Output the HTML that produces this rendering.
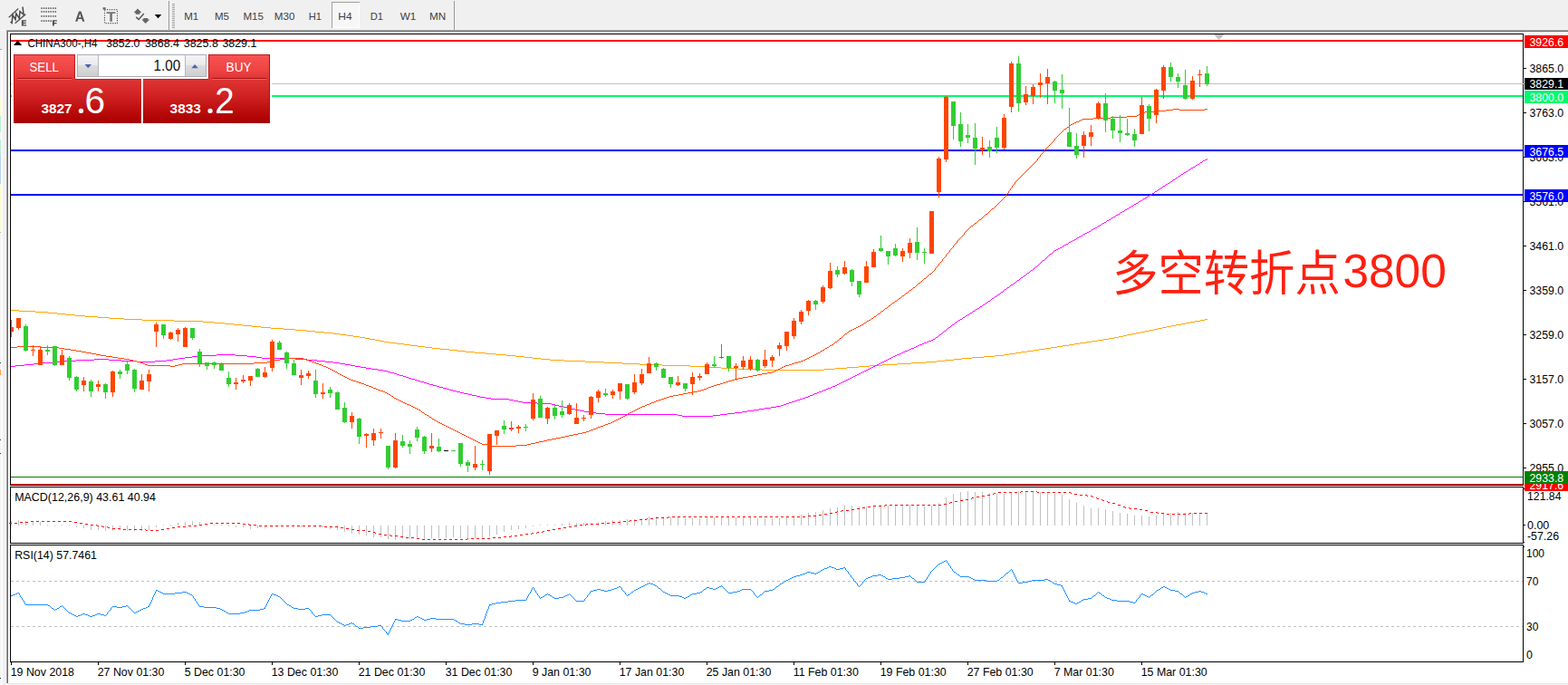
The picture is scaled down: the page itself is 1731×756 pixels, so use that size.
<!DOCTYPE html>
<html><head><meta charset="utf-8"><title>CHINA300 H4</title>
<style>
html,body{margin:0;padding:0;background:#fff;}
body{width:1731px;height:756px;position:relative;overflow:hidden;font-family:"Liberation Sans",sans-serif;}
.abs{position:absolute}
</style></head><body>
<svg width="1731" height="756" viewBox="0 0 1731 756" style="position:absolute;left:0;top:0" font-family="Liberation Sans, sans-serif">
<rect x="0" y="0" width="1731" height="33" fill="#f0f0f0" />
<rect x="0" y="33" width="1731" height="1" fill="#a8a8a8" />
<rect x="7" y="34" width="1731" height="1" fill="#696969" />
<rect x="0" y="35" width="1731" height="721" fill="#ffffff" />
<rect x="0" y="33" width="7" height="723" fill="#f0f0f0" />
<rect x="0" y="33" width="7" height="1" fill="#fafafa" />
<rect x="7" y="34" width="1" height="720" fill="#a0a0a0" />
<rect x="8" y="34" width="1" height="720" fill="#696969" />
<rect x="0" y="55" width="1" height="701" fill="#f4f4f4" />
<rect x="1" y="55" width="2" height="701" fill="#fbfbfc" />
<rect x="6" y="35" width="1" height="719" fill="#f5f5f5" />
<rect x="0" y="54" width="2" height="1" fill="#a0a0a0" />
<rect x="0" y="107" width="1" height="21" fill="#fbfbcc" />
<rect x="0" y="128" width="1" height="18" fill="#b8f0d0" />
<rect x="0" y="146" width="1" height="8" fill="#f8f8f8" />
<rect x="0" y="154" width="1" height="16" fill="#b8f0d0" />
<rect x="0" y="170" width="1" height="33" fill="#b4d4f8" />
<rect x="0" y="203" width="1" height="53" fill="#fbfbcc" />
<rect x="0" y="256" width="1" height="1" fill="#b0b0b0" />
<rect x="0" y="400" width="1" height="1" fill="#404040" />
<rect x="0" y="408" width="1" height="6" fill="#ffa040" />
<rect x="0" y="485" width="1" height="1" fill="#404040" />
<rect x="0" y="500" width="1" height="1" fill="#404040" />
<rect x="0" y="748" width="1" height="1" fill="#202020" />
<rect x="9" y="754" width="1722" height="1" fill="#e6e6e6" />
<rect x="9" y="755" width="1722" height="1" fill="#f4f4f4" />
<g shape-rendering="crispEdges">
<rect x="11" y="37" width="1671" height="1" fill="#000" />
<rect x="11" y="535" width="1671" height="1" fill="#000" />
<rect x="11" y="537" width="1671" height="1" fill="#000" />
<rect x="11" y="599" width="1671" height="1" fill="#000" />
<rect x="11" y="601" width="1671" height="1" fill="#000" />
<rect x="11" y="730" width="1671" height="1" fill="#000" />
<rect x="11" y="37" width="1" height="499" fill="#000" />
<rect x="11" y="537" width="1" height="63" fill="#000" />
<rect x="11" y="601" width="1" height="130" fill="#000" />
<rect x="1681" y="37" width="1" height="499" fill="#000" />
<rect x="1681" y="537" width="1" height="63" fill="#000" />
<rect x="1681" y="601" width="1" height="130" fill="#000" />
</g>
<defs><clipPath id="cm"><rect x="12" y="38" width="1669" height="497"/></clipPath></defs>
<g clip-path="url(#cm)" shape-rendering="crispEdges">
<rect x="12" y="44" width="1669" height="2" fill="#ff0000" />
<rect x="12" y="92" width="1670" height="1" fill="#c0c0c0" />
<rect x="12" y="105" width="1669" height="2" fill="#00fa6c" />
<rect x="12" y="165" width="1669" height="2" fill="#0000ff" />
<rect x="12" y="214" width="1669" height="2" fill="#0000ff" />
<rect x="12" y="526" width="1669" height="1" fill="#008000" />
<rect x="12" y="534" width="1669" height="1" fill="#ff0000" />
<path d="M12 342h9v1h-9zM21 343h18v1h-18zM39 344h14v1h-14zM53 345h10v1h-10zM63 346h10v1h-10zM73 347h10v1h-10zM83 348h11v1h-11zM94 349h14v1h-14zM108 350h13v1h-13zM121 351h16v1h-16zM137 352h20v1h-20zM1330 352h3v1h-3zM157 353h35v1h-35zM1325 353h5v1h-5zM192 354h32v1h-32zM1319 354h6v1h-6zM224 355h12v1h-12zM1314 355h5v1h-5zM236 356h12v1h-12zM1309 356h5v1h-5zM248 357h10v1h-10zM1304 357h5v1h-5zM258 358h10v1h-10zM1298 358h6v1h-6zM268 359h10v1h-10zM1293 359h5v1h-5zM278 360h10v1h-10zM1288 360h5v1h-5zM288 361h11v1h-11zM1283 361h5v1h-5zM299 362h14v1h-14zM1278 362h5v1h-5zM313 363h13v1h-13zM1274 363h4v1h-4zM326 364h12v1h-12zM1269 364h5v1h-5zM338 365h10v1h-10zM1264 365h5v1h-5zM348 366h10v1h-10zM1259 366h5v1h-5zM358 367h10v1h-10zM1254 367h5v1h-5zM368 368h8v1h-8zM1249 368h5v1h-5zM376 369h7v1h-7zM1244 369h5v1h-5zM383 370h7v1h-7zM1240 370h4v1h-4zM390 371h7v1h-7zM1235 371h5v1h-5zM397 372h6v1h-6zM1230 372h5v1h-5zM403 373h5v1h-5zM1224 373h6v1h-6zM408 374h6v1h-6zM1218 374h6v1h-6zM414 375h5v1h-5zM1212 375h6v1h-6zM419 376h5v1h-5zM1205 376h7v1h-7zM424 377h6v1h-6zM1199 377h6v1h-6zM430 378h8v1h-8zM1192 378h7v1h-7zM438 379h8v1h-8zM1186 379h6v1h-6zM446 380h7v1h-7zM1180 380h6v1h-6zM453 381h8v1h-8zM1173 381h7v1h-7zM461 382h8v1h-8zM1167 382h6v1h-6zM469 383h8v1h-8zM1160 383h7v1h-7zM477 384h9v1h-9zM1154 384h6v1h-6zM486 385h10v1h-10zM1147 385h7v1h-7zM496 386h9v1h-9zM1141 386h6v1h-6zM505 387h9v1h-9zM1134 387h7v1h-7zM514 388h10v1h-10zM1127 388h7v1h-7zM524 389h12v1h-12zM1121 389h6v1h-6zM536 390h11v1h-11zM1114 390h7v1h-7zM547 391h12v1h-12zM1108 391h6v1h-6zM559 392h10v1h-10zM1098 392h10v1h-10zM569 393h10v1h-10zM1086 393h12v1h-12zM579 394h9v1h-9zM1073 394h13v1h-13zM588 395h9v1h-9zM1062 395h11v1h-11zM597 396h10v1h-10zM1053 396h9v1h-9zM607 397h16v1h-16zM1043 397h10v1h-10zM623 398h23v1h-23zM1034 398h9v1h-9zM646 399h21v1h-21zM1022 399h12v1h-12zM667 400h20v1h-20zM1006 400h16v1h-16zM687 401h19v1h-19zM990 401h16v1h-16zM706 402h25v1h-25zM974 402h16v1h-16zM731 403h31v1h-31zM960 403h14v1h-14zM762 404h21v1h-21zM948 404h12v1h-12zM783 405h13v1h-13zM935 405h13v1h-13zM796 406h19v1h-19zM922 406h13v1h-13zM815 407h26v1h-26zM910 407h12v1h-12zM841 408h69v1h-69z" fill="#ffa500"/>
<path d="M1332 175h1v1h-1zM1330 176h2v1h-2zM1328 177h2v1h-2zM1327 178h1v1h-1zM1325 179h2v1h-2zM1324 180h1v1h-1zM1322 181h2v1h-2zM1320 182h2v1h-2zM1319 183h1v1h-1zM1317 184h2v1h-2zM1315 185h2v1h-2zM1314 186h1v1h-1zM1312 187h2v1h-2zM1311 188h1v1h-1zM1309 189h2v1h-2zM1307 190h2v1h-2zM1306 191h1v1h-1zM1304 192h2v1h-2zM1303 193h1v1h-1zM1301 194h2v1h-2zM1300 195h1v1h-1zM1298 196h2v1h-2zM1297 197h1v1h-1zM1295 198h2v1h-2zM1294 199h1v1h-1zM1292 200h2v1h-2zM1291 201h1v1h-1zM1289 202h2v1h-2zM1287 203h2v1h-2zM1286 204h1v1h-1zM1284 205h2v1h-2zM1283 206h1v1h-1zM1281 207h2v1h-2zM1280 208h1v1h-1zM1278 209h2v1h-2zM1277 210h1v1h-1zM1275 211h2v1h-2zM1274 212h1v1h-1zM1272 213h2v1h-2zM1271 214h1v1h-1zM1269 215h2v1h-2zM1267 216h2v1h-2zM1266 217h1v1h-1zM1264 218h2v1h-2zM1262 219h2v1h-2zM1261 220h1v1h-1zM1259 221h2v1h-2zM1257 222h2v1h-2zM1256 223h1v1h-1zM1254 224h2v1h-2zM1252 225h2v1h-2zM1251 226h1v1h-1zM1249 227h2v1h-2zM1247 228h2v1h-2zM1246 229h1v1h-1zM1244 230h2v1h-2zM1242 231h2v1h-2zM1241 232h1v1h-1zM1239 233h2v1h-2zM1237 234h2v1h-2zM1236 235h1v1h-1zM1234 236h2v1h-2zM1232 237h2v1h-2zM1231 238h1v1h-1zM1229 239h2v1h-2zM1227 240h2v1h-2zM1226 241h1v1h-1zM1224 242h2v1h-2zM1222 243h2v1h-2zM1221 244h1v1h-1zM1219 245h2v1h-2zM1217 246h2v1h-2zM1216 247h1v1h-1zM1214 248h2v1h-2zM1212 249h2v1h-2zM1211 250h1v1h-1zM1209 251h2v1h-2zM1207 252h2v1h-2zM1205 253h2v1h-2zM1204 254h1v1h-1zM1202 255h2v1h-2zM1200 256h2v1h-2zM1198 257h2v1h-2zM1196 258h2v1h-2zM1195 259h1v1h-1zM1193 260h2v1h-2zM1191 261h2v1h-2zM1189 262h2v1h-2zM1188 263h1v1h-1zM1186 264h2v1h-2zM1184 265h2v1h-2zM1182 266h2v1h-2zM1180 267h2v1h-2zM1179 268h1v1h-1zM1177 269h2v1h-2zM1175 270h2v1h-2zM1173 271h2v1h-2zM1172 272h1v1h-1zM1170 273h2v1h-2zM1168 274h2v1h-2zM1166 275h2v1h-2zM1164 276h2v1h-2zM1163 277h1v1h-1zM1162 278h1v1h-1zM1161 279h1v1h-1zM1159 280h2v1h-2zM1158 281h1v1h-1zM1157 282h1v1h-1zM1156 283h1v1h-1zM1155 284h1v1h-1zM1154 285h1v1h-1zM1153 286h1v1h-1zM1151 287h2v1h-2zM1150 288h1v1h-1zM1149 289h1v1h-1zM1148 290h1v1h-1zM1147 291h1v1h-1zM1146 292h1v1h-1zM1145 293h1v1h-1zM1143 294h2v1h-2zM1142 295h1v1h-1zM1141 296h1v1h-1zM1140 297h1v1h-1zM1138 298h2v1h-2zM1137 299h1v1h-1zM1136 300h1v1h-1zM1134 301h2v1h-2zM1133 302h1v1h-1zM1132 303h1v1h-1zM1130 304h2v1h-2zM1129 305h1v1h-1zM1127 306h2v1h-2zM1126 307h1v1h-1zM1125 308h1v1h-1zM1123 309h2v1h-2zM1122 310h1v1h-1zM1121 311h1v1h-1zM1119 312h2v1h-2zM1118 313h1v1h-1zM1116 314h2v1h-2zM1115 315h1v1h-1zM1114 316h1v1h-1zM1112 317h2v1h-2zM1111 318h1v1h-1zM1109 319h2v1h-2zM1108 320h1v1h-1zM1107 321h1v1h-1zM1105 322h2v1h-2zM1104 323h1v1h-1zM1103 324h1v1h-1zM1101 325h2v1h-2zM1100 326h1v1h-1zM1098 327h2v1h-2zM1097 328h1v1h-1zM1095 329h2v1h-2zM1094 330h1v1h-1zM1093 331h1v1h-1zM1091 332h2v1h-2zM1090 333h1v1h-1zM1088 334h2v1h-2zM1087 335h1v1h-1zM1085 336h2v1h-2zM1084 337h1v1h-1zM1082 338h2v1h-2zM1081 339h1v1h-1zM1079 340h2v1h-2zM1077 341h2v1h-2zM1076 342h1v1h-1zM1074 343h2v1h-2zM1073 344h1v1h-1zM1071 345h2v1h-2zM1070 346h1v1h-1zM1068 347h2v1h-2zM1066 348h2v1h-2zM1065 349h1v1h-1zM1063 350h2v1h-2zM1062 351h1v1h-1zM1060 352h2v1h-2zM1058 353h2v1h-2zM1057 354h1v1h-1zM1055 355h2v1h-2zM1054 356h1v1h-1zM1053 357h1v1h-1zM1051 358h2v1h-2zM1050 359h1v1h-1zM1049 360h1v1h-1zM1047 361h2v1h-2zM1046 362h1v1h-1zM1045 363h1v1h-1zM1044 364h1v1h-1zM1042 365h2v1h-2zM1041 366h1v1h-1zM1040 367h1v1h-1zM1039 368h1v1h-1zM1037 369h2v1h-2zM1036 370h1v1h-1zM1035 371h1v1h-1zM1033 372h2v1h-2zM1032 373h1v1h-1zM1030 374h2v1h-2zM1028 375h2v1h-2zM1025 376h3v1h-3zM1023 377h2v1h-2zM1020 378h3v1h-3zM1018 379h2v1h-2zM1015 380h3v1h-3zM1013 381h2v1h-2zM1011 382h2v1h-2zM1009 383h2v1h-2zM1006 384h3v1h-3zM1004 385h2v1h-2zM1002 386h2v1h-2zM999 387h3v1h-3zM997 388h2v1h-2zM995 389h2v1h-2zM993 390h2v1h-2zM239 391h21v1h-21zM990 391h3v1h-3zM220 392h19v1h-19zM260 392h13v1h-13zM988 392h2v1h-2zM212 393h8v1h-8zM273 393h10v1h-10zM986 393h2v1h-2zM204 394h8v1h-8zM283 394h6v1h-6zM984 394h2v1h-2zM197 395h7v1h-7zM289 395h37v1h-37zM982 395h2v1h-2zM104 396h16v1h-16zM191 396h6v1h-6zM326 396h13v1h-13zM980 396h2v1h-2zM84 397h20v1h-20zM120 397h14v1h-14zM184 397h7v1h-7zM339 397h11v1h-11zM978 397h2v1h-2zM69 398h15v1h-15zM134 398h17v1h-17zM171 398h13v1h-13zM350 398h9v1h-9zM976 398h2v1h-2zM58 399h11v1h-11zM151 399h20v1h-20zM359 399h9v1h-9zM974 399h2v1h-2zM47 400h11v1h-11zM368 400h7v1h-7zM972 400h2v1h-2zM37 401h10v1h-10zM375 401h6v1h-6zM970 401h2v1h-2zM27 402h10v1h-10zM381 402h6v1h-6zM968 402h2v1h-2zM17 403h10v1h-10zM387 403h5v1h-5zM966 403h2v1h-2zM12 404h5v1h-5zM392 404h6v1h-6zM964 404h2v1h-2zM398 405h6v1h-6zM962 405h2v1h-2zM404 406h6v1h-6zM960 406h2v1h-2zM410 407h7v1h-7zM958 407h2v1h-2zM417 408h6v1h-6zM956 408h2v1h-2zM423 409h5v1h-5zM954 409h2v1h-2zM428 410h3v1h-3zM952 410h2v1h-2zM431 411h4v1h-4zM950 411h2v1h-2zM435 412h3v1h-3zM948 412h2v1h-2zM438 413h3v1h-3zM946 413h2v1h-2zM441 414h4v1h-4zM944 414h2v1h-2zM445 415h3v1h-3zM942 415h2v1h-2zM448 416h3v1h-3zM940 416h2v1h-2zM451 417h3v1h-3zM938 417h2v1h-2zM454 418h4v1h-4zM936 418h2v1h-2zM458 419h3v1h-3zM934 419h2v1h-2zM461 420h3v1h-3zM932 420h2v1h-2zM464 421h4v1h-4zM930 421h2v1h-2zM468 422h3v1h-3zM928 422h2v1h-2zM471 423h3v1h-3zM926 423h2v1h-2zM474 424h4v1h-4zM924 424h2v1h-2zM478 425h4v1h-4zM922 425h2v1h-2zM482 426h3v1h-3zM919 426h3v1h-3zM485 427h4v1h-4zM917 427h2v1h-2zM489 428h4v1h-4zM914 428h3v1h-3zM493 429h3v1h-3zM912 429h2v1h-2zM496 430h4v1h-4zM909 430h3v1h-3zM500 431h4v1h-4zM907 431h2v1h-2zM504 432h4v1h-4zM904 432h3v1h-3zM508 433h4v1h-4zM902 433h2v1h-2zM512 434h5v1h-5zM899 434h3v1h-3zM517 435h4v1h-4zM897 435h2v1h-2zM521 436h5v1h-5zM894 436h3v1h-3zM526 437h4v1h-4zM892 437h2v1h-2zM530 438h6v1h-6zM889 438h3v1h-3zM536 439h6v1h-6zM886 439h3v1h-3zM542 440h20v1h-20zM883 440h3v1h-3zM562 441h5v1h-5zM880 441h3v1h-3zM567 442h5v1h-5zM877 442h3v1h-3zM572 443h5v1h-5zM874 443h3v1h-3zM577 444h16v1h-16zM871 444h3v1h-3zM593 445h16v1h-16zM868 445h3v1h-3zM609 446h4v1h-4zM865 446h3v1h-3zM613 447h4v1h-4zM862 447h3v1h-3zM617 448h5v1h-5zM857 448h5v1h-5zM622 449h4v1h-4zM851 449h6v1h-6zM626 450h4v1h-4zM844 450h7v1h-7zM630 451h5v1h-5zM838 451h6v1h-6zM635 452h5v1h-5zM832 452h6v1h-6zM640 453h5v1h-5zM825 453h7v1h-7zM645 454h5v1h-5zM819 454h6v1h-6zM650 455h8v1h-8zM811 455h8v1h-8zM658 456h10v1h-10zM803 456h8v1h-8zM668 457h80v1h-80zM795 457h8v1h-8zM748 458h5v1h-5zM787 458h8v1h-8zM753 459h34v1h-34z" fill="#ff00ff"/>
<path d="M1295 120h7v1h-7zM1330 120h3v1h-3zM1287 121h8v1h-8zM1302 121h28v1h-28zM1274 122h13v1h-13zM1264 123h10v1h-10zM1262 124h2v1h-2zM1260 125h2v1h-2zM1257 126h3v1h-3zM1255 127h2v1h-2zM1244 128h11v1h-11zM1226 129h18v1h-18zM1207 130h19v1h-19zM1195 131h12v1h-12zM1193 132h2v1h-2zM1191 133h2v1h-2zM1188 134h3v1h-3zM1186 135h2v1h-2zM1184 136h2v1h-2zM1182 137h2v1h-2zM1181 138h1v1h-1zM1180 139h1v1h-1zM1178 140h2v1h-2zM1177 141h1v1h-1zM1175 142h2v1h-2zM1174 143h1v1h-1zM1173 144h1v1h-1zM1172 145h1v1h-1zM1171 146h1v1h-1zM1170 147h1v1h-1zM1169 148h1v1h-1zM1168 149h1v1h-1zM1167 150h1v1h-1zM1166 151h1v1h-1zM1165 152h1v1h-1zM1164 153h1v2h-1zM1163 155h1v1h-1zM1162 156h1v1h-1zM1161 157h1v1h-1zM1160 158h1v1h-1zM1159 159h1v1h-1zM1158 160h1v1h-1zM1157 161h1v1h-1zM1156 162h1v1h-1zM1155 163h1v1h-1zM1154 164h1v1h-1zM1153 165h1v1h-1zM1152 166h1v2h-1zM1151 168h1v1h-1zM1150 169h1v1h-1zM1149 170h1v1h-1zM1148 171h1v2h-1zM1147 173h1v1h-1zM1146 174h1v1h-1zM1145 175h1v2h-1zM1144 177h1v1h-1zM1143 178h1v1h-1zM1142 179h1v1h-1zM1141 180h1v1h-1zM1140 181h1v1h-1zM1139 182h1v1h-1zM1138 183h1v1h-1zM1137 184h1v1h-1zM1136 185h1v1h-1zM1135 186h1v1h-1zM1134 187h1v1h-1zM1133 188h1v1h-1zM1132 189h1v1h-1zM1131 190h1v1h-1zM1130 191h1v1h-1zM1129 192h1v1h-1zM1128 193h1v1h-1zM1127 194h1v1h-1zM1126 195h1v1h-1zM1125 196h1v1h-1zM1124 197h1v1h-1zM1123 198h1v1h-1zM1122 199h1v1h-1zM1121 200h1v1h-1zM1120 201h1v2h-1zM1119 203h1v1h-1zM1118 204h1v1h-1zM1117 205h1v2h-1zM1116 207h1v1h-1zM1115 208h1v2h-1zM1114 210h1v1h-1zM1113 211h1v2h-1zM1112 213h1v1h-1zM1111 214h1v1h-1zM1110 215h1v2h-1zM1109 217h1v1h-1zM1108 218h1v1h-1zM1107 219h1v1h-1zM1106 220h1v1h-1zM1105 221h1v1h-1zM1104 222h1v1h-1zM1103 223h1v1h-1zM1102 224h1v1h-1zM1101 225h1v1h-1zM1100 226h1v1h-1zM1099 227h1v1h-1zM1098 228h1v1h-1zM1097 229h1v1h-1zM1095 230h2v1h-2zM1094 231h1v1h-1zM1093 232h1v1h-1zM1092 233h1v1h-1zM1091 234h1v1h-1zM1090 235h1v1h-1zM1088 236h2v1h-2zM1087 237h1v1h-1zM1086 238h1v1h-1zM1085 239h1v1h-1zM1084 240h1v1h-1zM1083 241h1v1h-1zM1081 242h2v1h-2zM1080 243h1v1h-1zM1079 244h1v1h-1zM1078 245h1v1h-1zM1076 246h2v1h-2zM1075 247h1v1h-1zM1074 248h1v1h-1zM1072 249h2v1h-2zM1071 250h1v1h-1zM1070 251h1v1h-1zM1069 252h1v1h-1zM1068 253h1v1h-1zM1067 254h1v1h-1zM1066 255h1v1h-1zM1065 256h1v1h-1zM1064 257h1v2h-1zM1063 259h1v1h-1zM1062 260h1v1h-1zM1061 261h1v1h-1zM1060 262h1v1h-1zM1059 263h1v1h-1zM1058 264h1v1h-1zM1057 265h1v1h-1zM1056 266h1v2h-1zM1055 268h1v1h-1zM1054 269h1v1h-1zM1053 270h1v1h-1zM1052 271h1v2h-1zM1051 273h1v1h-1zM1050 274h1v1h-1zM1049 275h1v1h-1zM1048 276h1v2h-1zM1047 278h1v1h-1zM1046 279h1v1h-1zM1045 280h1v1h-1zM1044 281h1v2h-1zM1043 283h1v1h-1zM1042 284h1v1h-1zM1041 285h1v1h-1zM1040 286h1v2h-1zM1039 288h1v1h-1zM1038 289h1v1h-1zM1037 290h1v1h-1zM1036 291h1v2h-1zM1035 293h1v1h-1zM1034 294h1v1h-1zM1033 295h1v1h-1zM1032 296h1v2h-1zM1031 298h1v1h-1zM1030 299h1v1h-1zM1029 300h1v1h-1zM1028 301h1v1h-1zM1026 302h2v1h-2zM1025 303h1v1h-1zM1024 304h1v1h-1zM1023 305h1v1h-1zM1022 306h1v1h-1zM1020 307h2v1h-2zM1019 308h1v1h-1zM1018 309h1v1h-1zM1017 310h1v1h-1zM1016 311h1v1h-1zM1014 312h2v1h-2zM1013 313h1v1h-1zM1012 314h1v1h-1zM1011 315h1v1h-1zM1010 316h1v1h-1zM1008 317h2v1h-2zM1007 318h1v1h-1zM1006 319h1v1h-1zM1004 320h2v1h-2zM1003 321h1v1h-1zM1002 322h1v1h-1zM1000 323h2v1h-2zM999 324h1v1h-1zM998 325h1v1h-1zM996 326h2v1h-2zM995 327h1v1h-1zM994 328h1v1h-1zM992 329h2v1h-2zM991 330h1v1h-1zM990 331h1v1h-1zM988 332h2v1h-2zM987 333h1v1h-1zM985 334h2v1h-2zM984 335h1v1h-1zM983 336h1v1h-1zM981 337h2v1h-2zM980 338h1v1h-1zM979 339h1v1h-1zM977 340h2v1h-2zM976 341h1v1h-1zM975 342h1v1h-1zM973 343h2v1h-2zM972 344h1v1h-1zM971 345h1v1h-1zM969 346h2v1h-2zM968 347h1v1h-1zM967 348h1v1h-1zM965 349h2v1h-2zM964 350h1v1h-1zM962 351h2v1h-2zM961 352h1v1h-1zM959 353h2v1h-2zM957 354h2v1h-2zM956 355h1v1h-1zM954 356h2v1h-2zM953 357h1v1h-1zM951 358h2v1h-2zM949 359h2v1h-2zM947 360h2v1h-2zM945 361h2v1h-2zM943 362h2v1h-2zM941 363h2v1h-2zM939 364h2v1h-2zM937 365h2v1h-2zM936 366h1v1h-1zM935 367h1v1h-1zM933 368h2v1h-2zM932 369h1v1h-1zM931 370h1v1h-1zM930 371h1v1h-1zM929 372h1v1h-1zM927 373h2v1h-2zM926 374h1v1h-1zM925 375h1v1h-1zM924 376h1v1h-1zM922 377h2v1h-2zM921 378h1v1h-1zM920 379h1v1h-1zM918 380h2v1h-2zM916 381h2v1h-2zM19 382h25v1h-25zM915 382h1v1h-1zM12 383h7v1h-7zM44 383h21v1h-21zM913 383h2v1h-2zM65 384h6v1h-6zM911 384h2v1h-2zM71 385h7v1h-7zM910 385h1v1h-1zM78 386h6v1h-6zM908 386h2v1h-2zM84 387h6v1h-6zM906 387h2v1h-2zM90 388h5v1h-5zM905 388h1v1h-1zM95 389h6v1h-6zM903 389h2v1h-2zM101 390h5v1h-5zM901 390h2v1h-2zM106 391h5v1h-5zM899 391h2v1h-2zM111 392h6v1h-6zM897 392h2v1h-2zM117 393h7v1h-7zM895 393h2v1h-2zM124 394h6v1h-6zM893 394h2v1h-2zM130 395h7v1h-7zM316 395h19v1h-19zM891 395h2v1h-2zM137 396h6v1h-6zM309 396h7v1h-7zM335 396h3v1h-3zM889 396h2v1h-2zM143 397h4v1h-4zM303 397h6v1h-6zM338 397h3v1h-3zM887 397h2v1h-2zM147 398h4v1h-4zM299 398h4v1h-4zM341 398h3v1h-3zM884 398h3v1h-3zM151 399h4v1h-4zM295 399h4v1h-4zM344 399h3v1h-3zM881 399h3v1h-3zM155 400h3v1h-3zM280 400h15v1h-15zM347 400h2v1h-2zM877 400h4v1h-4zM158 401h2v1h-2zM201 401h79v1h-79zM349 401h3v1h-3zM874 401h3v1h-3zM160 402h3v1h-3zM197 402h4v1h-4zM352 402h3v1h-3zM871 402h3v1h-3zM163 403h25v1h-25zM193 403h4v1h-4zM355 403h2v1h-2zM867 403h4v1h-4zM188 404h5v1h-5zM357 404h3v1h-3zM865 404h2v1h-2zM360 405h2v1h-2zM863 405h2v1h-2zM362 406h2v1h-2zM861 406h2v1h-2zM364 407h2v1h-2zM859 407h2v1h-2zM366 408h2v1h-2zM857 408h2v1h-2zM368 409h2v1h-2zM855 409h2v1h-2zM370 410h2v1h-2zM852 410h3v1h-3zM372 411h1v1h-1zM847 411h5v1h-5zM373 412h2v1h-2zM841 412h6v1h-6zM375 413h2v1h-2zM836 413h5v1h-5zM377 414h2v1h-2zM831 414h5v1h-5zM379 415h2v1h-2zM826 415h5v1h-5zM381 416h2v1h-2zM820 416h6v1h-6zM383 417h2v1h-2zM815 417h5v1h-5zM385 418h2v1h-2zM811 418h4v1h-4zM387 419h3v1h-3zM808 419h3v1h-3zM390 420h3v1h-3zM804 420h4v1h-4zM393 421h3v1h-3zM801 421h3v1h-3zM396 422h3v1h-3zM798 422h3v1h-3zM399 423h3v1h-3zM795 423h3v1h-3zM402 424h2v1h-2zM791 424h4v1h-4zM404 425h3v1h-3zM788 425h3v1h-3zM407 426h3v1h-3zM785 426h3v1h-3zM410 427h2v1h-2zM782 427h3v1h-3zM412 428h3v1h-3zM780 428h2v1h-2zM415 429h2v1h-2zM777 429h3v1h-3zM417 430h3v1h-3zM774 430h3v1h-3zM420 431h3v1h-3zM770 431h4v1h-4zM423 432h2v1h-2zM765 432h5v1h-5zM425 433h2v1h-2zM759 433h6v1h-6zM427 434h2v1h-2zM754 434h5v1h-5zM429 435h2v1h-2zM749 435h5v1h-5zM431 436h1v1h-1zM743 436h6v1h-6zM432 437h2v1h-2zM739 437h4v1h-4zM434 438h1v1h-1zM736 438h3v1h-3zM435 439h2v1h-2zM733 439h3v1h-3zM437 440h2v1h-2zM730 440h3v1h-3zM439 441h2v1h-2zM727 441h3v1h-3zM441 442h2v1h-2zM724 442h3v1h-3zM443 443h2v1h-2zM722 443h2v1h-2zM445 444h2v1h-2zM719 444h3v1h-3zM447 445h2v1h-2zM717 445h2v1h-2zM449 446h3v1h-3zM714 446h3v1h-3zM452 447h2v1h-2zM712 447h2v1h-2zM454 448h2v1h-2zM709 448h3v1h-3zM456 449h2v1h-2zM707 449h2v1h-2zM458 450h2v1h-2zM705 450h2v1h-2zM460 451h2v1h-2zM703 451h2v1h-2zM462 452h2v1h-2zM701 452h2v1h-2zM464 453h1v1h-1zM699 453h2v1h-2zM465 454h1v1h-1zM697 454h2v1h-2zM466 455h2v1h-2zM695 455h2v1h-2zM468 456h1v1h-1zM693 456h2v1h-2zM469 457h2v1h-2zM692 457h1v1h-1zM471 458h2v1h-2zM690 458h2v1h-2zM473 459h1v1h-1zM688 459h2v1h-2zM474 460h2v1h-2zM686 460h2v1h-2zM476 461h1v1h-1zM684 461h2v1h-2zM477 462h2v1h-2zM682 462h2v1h-2zM479 463h2v1h-2zM680 463h2v1h-2zM481 464h1v1h-1zM678 464h2v1h-2zM482 465h2v1h-2zM676 465h2v1h-2zM484 466h2v1h-2zM674 466h2v1h-2zM486 467h2v1h-2zM671 467h3v1h-3zM488 468h2v1h-2zM668 468h3v1h-3zM490 469h2v1h-2zM666 469h2v1h-2zM492 470h2v1h-2zM663 470h3v1h-3zM494 471h2v1h-2zM660 471h3v1h-3zM496 472h2v1h-2zM658 472h2v1h-2zM498 473h2v1h-2zM655 473h3v1h-3zM500 474h2v1h-2zM652 474h3v1h-3zM502 475h2v1h-2zM650 475h2v1h-2zM504 476h2v1h-2zM647 476h3v1h-3zM506 477h2v1h-2zM643 477h4v1h-4zM508 478h2v1h-2zM638 478h5v1h-5zM510 479h2v1h-2zM633 479h5v1h-5zM512 480h2v1h-2zM628 480h5v1h-5zM514 481h2v1h-2zM624 481h4v1h-4zM516 482h2v1h-2zM619 482h5v1h-5zM518 483h2v1h-2zM614 483h5v1h-5zM520 484h2v1h-2zM609 484h5v1h-5zM522 485h2v1h-2zM604 485h5v1h-5zM524 486h2v1h-2zM600 486h4v1h-4zM526 487h2v1h-2zM595 487h5v1h-5zM528 488h2v1h-2zM591 488h4v1h-4zM530 489h2v1h-2zM586 489h5v1h-5zM532 490h7v1h-7zM582 490h4v1h-4zM539 491h4v1h-4zM570 491h12v1h-12zM543 492h27v1h-27z" fill="#ff4500"/>
<rect x="12" y="353" width="1" height="19" fill="#ff4500" />
<rect x="10" y="361" width="5" height="5" fill="#ff4500" />
<rect x="20" y="351" width="1" height="13" fill="#ff4500" />
<rect x="18" y="351" width="5" height="11" fill="#ff4500" />
<rect x="28" y="358" width="1" height="30" fill="#32cd32" />
<rect x="26" y="360" width="5" height="27" fill="#32cd32" />
<rect x="36" y="381" width="1" height="12" fill="#ff4500" />
<rect x="34" y="386" width="5" height="1" fill="#ff4500" />
<rect x="44" y="382" width="1" height="21" fill="#ff4500" />
<rect x="42" y="386" width="5" height="17" fill="#ff4500" />
<rect x="52" y="381" width="1" height="11" fill="#32cd32" />
<rect x="50" y="386" width="5" height="2" fill="#32cd32" />
<rect x="60" y="382" width="1" height="22" fill="#32cd32" />
<rect x="58" y="382" width="5" height="21" fill="#32cd32" />
<rect x="68" y="386" width="1" height="17" fill="#ff4500" />
<rect x="66" y="392" width="5" height="11" fill="#ff4500" />
<rect x="76" y="393" width="1" height="27" fill="#32cd32" />
<rect x="74" y="395" width="5" height="22" fill="#32cd32" />
<rect x="84" y="415" width="1" height="17" fill="#32cd32" />
<rect x="82" y="416" width="5" height="14" fill="#32cd32" />
<rect x="92" y="416" width="1" height="16" fill="#ff4500" />
<rect x="90" y="420" width="5" height="5" fill="#ff4500" />
<rect x="100" y="419" width="1" height="19" fill="#32cd32" />
<rect x="98" y="421" width="5" height="11" fill="#32cd32" />
<rect x="108" y="420" width="1" height="12" fill="#ff4500" />
<rect x="106" y="424" width="5" height="3" fill="#ff4500" />
<rect x="116" y="423" width="1" height="17" fill="#32cd32" />
<rect x="114" y="424" width="5" height="9" fill="#32cd32" />
<rect x="124" y="409" width="1" height="29" fill="#ff4500" />
<rect x="122" y="410" width="5" height="23" fill="#ff4500" />
<rect x="132" y="408" width="1" height="10" fill="#32cd32" />
<rect x="130" y="410" width="5" height="3" fill="#32cd32" />
<rect x="140" y="399" width="1" height="14" fill="#32cd32" />
<rect x="138" y="402" width="5" height="7" fill="#32cd32" />
<rect x="148" y="407" width="1" height="26" fill="#32cd32" />
<rect x="146" y="408" width="5" height="21" fill="#32cd32" />
<rect x="156" y="413" width="1" height="17" fill="#ff4500" />
<rect x="154" y="420" width="5" height="10" fill="#ff4500" />
<rect x="164" y="408" width="1" height="24" fill="#ff4500" />
<rect x="162" y="413" width="5" height="8" fill="#ff4500" />
<rect x="172" y="356" width="1" height="27" fill="#ff4500" />
<rect x="170" y="358" width="5" height="8" fill="#ff4500" />
<rect x="180" y="358" width="1" height="16" fill="#32cd32" />
<rect x="178" y="358" width="5" height="12" fill="#32cd32" />
<rect x="188" y="366" width="1" height="9" fill="#ff4500" />
<rect x="186" y="367" width="5" height="7" fill="#ff4500" />
<rect x="196" y="362" width="1" height="15" fill="#ff4500" />
<rect x="194" y="364" width="5" height="5" fill="#ff4500" />
<rect x="204" y="361" width="1" height="22" fill="#ff4500" />
<rect x="202" y="362" width="5" height="21" fill="#ff4500" />
<rect x="212" y="362" width="1" height="13" fill="#32cd32" />
<rect x="210" y="362" width="5" height="11" fill="#32cd32" />
<rect x="220" y="385" width="1" height="20" fill="#32cd32" />
<rect x="218" y="388" width="5" height="13" fill="#32cd32" />
<rect x="228" y="400" width="1" height="8" fill="#32cd32" />
<rect x="226" y="400" width="5" height="4" fill="#32cd32" />
<rect x="236" y="399" width="1" height="8" fill="#32cd32" />
<rect x="234" y="400" width="5" height="3" fill="#32cd32" />
<rect x="244" y="400" width="1" height="9" fill="#32cd32" />
<rect x="242" y="402" width="5" height="7" fill="#32cd32" />
<rect x="252" y="410" width="1" height="17" fill="#32cd32" />
<rect x="250" y="417" width="5" height="7" fill="#32cd32" />
<rect x="260" y="417" width="1" height="13" fill="#ff4500" />
<rect x="258" y="422" width="5" height="2" fill="#ff4500" />
<rect x="268" y="414" width="1" height="9" fill="#ff4500" />
<rect x="266" y="419" width="5" height="2" fill="#ff4500" />
<rect x="276" y="415" width="1" height="11" fill="#ff4500" />
<rect x="274" y="415" width="5" height="5" fill="#ff4500" />
<rect x="284" y="406" width="1" height="10" fill="#32cd32" />
<rect x="282" y="407" width="5" height="9" fill="#32cd32" />
<rect x="292" y="405" width="1" height="12" fill="#ff4500" />
<rect x="290" y="411" width="5" height="5" fill="#ff4500" />
<rect x="300" y="375" width="1" height="35" fill="#ff4500" />
<rect x="298" y="377" width="5" height="29" fill="#ff4500" />
<rect x="308" y="376" width="1" height="10" fill="#32cd32" />
<rect x="306" y="378" width="5" height="8" fill="#32cd32" />
<rect x="316" y="388" width="1" height="19" fill="#32cd32" />
<rect x="314" y="389" width="5" height="12" fill="#32cd32" />
<rect x="324" y="397" width="1" height="17" fill="#32cd32" />
<rect x="322" y="401" width="5" height="13" fill="#32cd32" />
<rect x="332" y="408" width="1" height="17" fill="#ff4500" />
<rect x="330" y="414" width="5" height="3" fill="#ff4500" />
<rect x="340" y="409" width="1" height="9" fill="#ff4500" />
<rect x="338" y="412" width="5" height="3" fill="#ff4500" />
<rect x="348" y="408" width="1" height="31" fill="#32cd32" />
<rect x="346" y="420" width="5" height="15" fill="#32cd32" />
<rect x="356" y="423" width="1" height="17" fill="#ff4500" />
<rect x="354" y="433" width="5" height="2" fill="#ff4500" />
<rect x="364" y="427" width="1" height="12" fill="#32cd32" />
<rect x="362" y="430" width="5" height="4" fill="#32cd32" />
<rect x="372" y="432" width="1" height="20" fill="#32cd32" />
<rect x="370" y="433" width="5" height="19" fill="#32cd32" />
<rect x="380" y="444" width="1" height="23" fill="#32cd32" />
<rect x="378" y="450" width="5" height="16" fill="#32cd32" />
<rect x="388" y="455" width="1" height="18" fill="#ff4500" />
<rect x="386" y="459" width="5" height="7" fill="#ff4500" />
<rect x="396" y="461" width="1" height="29" fill="#32cd32" />
<rect x="394" y="462" width="5" height="20" fill="#32cd32" />
<rect x="404" y="478" width="1" height="16" fill="#ff4500" />
<rect x="402" y="479" width="5" height="2" fill="#ff4500" />
<rect x="412" y="473" width="1" height="19" fill="#ff4500" />
<rect x="410" y="478" width="5" height="8" fill="#ff4500" />
<rect x="420" y="473" width="1" height="11" fill="#ff4500" />
<rect x="418" y="477" width="5" height="1" fill="#ff4500" />
<rect x="428" y="492" width="1" height="26" fill="#32cd32" />
<rect x="426" y="492" width="5" height="24" fill="#32cd32" />
<rect x="436" y="478" width="1" height="39" fill="#ff4500" />
<rect x="434" y="486" width="5" height="30" fill="#ff4500" />
<rect x="444" y="480" width="1" height="14" fill="#32cd32" />
<rect x="442" y="487" width="5" height="5" fill="#32cd32" />
<rect x="452" y="486" width="1" height="15" fill="#32cd32" />
<rect x="450" y="490" width="5" height="3" fill="#32cd32" />
<rect x="460" y="471" width="1" height="16" fill="#32cd32" />
<rect x="458" y="474" width="5" height="9" fill="#32cd32" />
<rect x="468" y="481" width="1" height="20" fill="#32cd32" />
<rect x="466" y="482" width="5" height="16" fill="#32cd32" />
<rect x="476" y="478" width="1" height="21" fill="#ff4500" />
<rect x="474" y="492" width="5" height="3" fill="#ff4500" />
<rect x="484" y="484" width="1" height="15" fill="#32cd32" />
<rect x="482" y="493" width="5" height="5" fill="#32cd32" />
<rect x="492" y="497" width="1" height="1" fill="#000000" />
<rect x="490" y="497" width="5" height="1" fill="#000000" />
<rect x="500" y="497" width="1" height="1" fill="#32cd32" />
<rect x="498" y="497" width="5" height="1" fill="#32cd32" />
<rect x="508" y="489" width="1" height="26" fill="#32cd32" />
<rect x="506" y="489" width="5" height="23" fill="#32cd32" />
<rect x="516" y="508" width="1" height="13" fill="#32cd32" />
<rect x="514" y="510" width="5" height="4" fill="#32cd32" />
<rect x="524" y="492" width="1" height="27" fill="#ff4500" />
<rect x="522" y="512" width="5" height="4" fill="#ff4500" />
<rect x="532" y="508" width="1" height="11" fill="#32cd32" />
<rect x="530" y="512" width="5" height="1" fill="#32cd32" />
<rect x="540" y="479" width="1" height="45" fill="#ff4500" />
<rect x="538" y="479" width="5" height="41" fill="#ff4500" />
<rect x="548" y="475" width="1" height="16" fill="#ff4500" />
<rect x="546" y="475" width="5" height="6" fill="#ff4500" />
<rect x="556" y="464" width="1" height="15" fill="#32cd32" />
<rect x="554" y="470" width="5" height="4" fill="#32cd32" />
<rect x="564" y="465" width="1" height="11" fill="#ff4500" />
<rect x="562" y="472" width="5" height="2" fill="#ff4500" />
<rect x="572" y="469" width="1" height="9" fill="#ff4500" />
<rect x="570" y="471" width="5" height="2" fill="#ff4500" />
<rect x="580" y="468" width="1" height="8" fill="#32cd32" />
<rect x="578" y="471" width="5" height="1" fill="#32cd32" />
<rect x="588" y="434" width="1" height="30" fill="#ff4500" />
<rect x="586" y="441" width="5" height="21" fill="#ff4500" />
<rect x="596" y="437" width="1" height="24" fill="#32cd32" />
<rect x="594" y="440" width="5" height="21" fill="#32cd32" />
<rect x="604" y="449" width="1" height="19" fill="#ff4500" />
<rect x="602" y="450" width="5" height="12" fill="#ff4500" />
<rect x="612" y="447" width="1" height="16" fill="#32cd32" />
<rect x="610" y="450" width="5" height="9" fill="#32cd32" />
<rect x="620" y="442" width="1" height="19" fill="#32cd32" />
<rect x="618" y="454" width="5" height="4" fill="#32cd32" />
<rect x="628" y="445" width="1" height="13" fill="#ff4500" />
<rect x="626" y="447" width="5" height="10" fill="#ff4500" />
<rect x="636" y="445" width="1" height="23" fill="#ff4500" />
<rect x="634" y="461" width="5" height="7" fill="#ff4500" />
<rect x="644" y="458" width="1" height="7" fill="#ff4500" />
<rect x="642" y="461" width="5" height="1" fill="#ff4500" />
<rect x="652" y="437" width="1" height="25" fill="#ff4500" />
<rect x="650" y="438" width="5" height="20" fill="#ff4500" />
<rect x="660" y="430" width="1" height="14" fill="#ff4500" />
<rect x="658" y="432" width="5" height="7" fill="#ff4500" />
<rect x="668" y="429" width="1" height="9" fill="#32cd32" />
<rect x="666" y="434" width="5" height="2" fill="#32cd32" />
<rect x="676" y="430" width="1" height="10" fill="#ff4500" />
<rect x="674" y="432" width="5" height="4" fill="#ff4500" />
<rect x="684" y="423" width="1" height="18" fill="#ff4500" />
<rect x="682" y="423" width="5" height="9" fill="#ff4500" />
<rect x="692" y="424" width="1" height="17" fill="#32cd32" />
<rect x="690" y="424" width="5" height="16" fill="#32cd32" />
<rect x="700" y="413" width="1" height="22" fill="#ff4500" />
<rect x="698" y="422" width="5" height="11" fill="#ff4500" />
<rect x="708" y="407" width="1" height="18" fill="#ff4500" />
<rect x="706" y="413" width="5" height="10" fill="#ff4500" />
<rect x="716" y="394" width="1" height="18" fill="#ff4500" />
<rect x="714" y="401" width="5" height="11" fill="#ff4500" />
<rect x="724" y="400" width="1" height="9" fill="#32cd32" />
<rect x="722" y="401" width="5" height="4" fill="#32cd32" />
<rect x="732" y="406" width="1" height="11" fill="#32cd32" />
<rect x="730" y="407" width="5" height="10" fill="#32cd32" />
<rect x="740" y="416" width="1" height="12" fill="#32cd32" />
<rect x="738" y="416" width="5" height="8" fill="#32cd32" />
<rect x="748" y="415" width="1" height="11" fill="#ff4500" />
<rect x="746" y="422" width="5" height="3" fill="#ff4500" />
<rect x="756" y="423" width="1" height="9" fill="#32cd32" />
<rect x="754" y="423" width="5" height="6" fill="#32cd32" />
<rect x="764" y="411" width="1" height="25" fill="#ff4500" />
<rect x="762" y="416" width="5" height="8" fill="#ff4500" />
<rect x="772" y="412" width="1" height="8" fill="#ff4500" />
<rect x="770" y="415" width="5" height="2" fill="#ff4500" />
<rect x="780" y="400" width="1" height="13" fill="#ff4500" />
<rect x="778" y="402" width="5" height="11" fill="#ff4500" />
<rect x="788" y="393" width="1" height="13" fill="#32cd32" />
<rect x="786" y="402" width="5" height="2" fill="#32cd32" />
<rect x="796" y="380" width="1" height="16" fill="#ff4500" />
<rect x="794" y="394" width="5" height="1" fill="#ff4500" />
<rect x="804" y="393" width="1" height="17" fill="#32cd32" />
<rect x="802" y="393" width="5" height="13" fill="#32cd32" />
<rect x="812" y="401" width="1" height="19" fill="#ff4500" />
<rect x="810" y="404" width="5" height="2" fill="#ff4500" />
<rect x="820" y="393" width="1" height="15" fill="#ff4500" />
<rect x="818" y="398" width="5" height="7" fill="#ff4500" />
<rect x="828" y="393" width="1" height="16" fill="#ff4500" />
<rect x="826" y="397" width="5" height="10" fill="#ff4500" />
<rect x="836" y="396" width="1" height="14" fill="#32cd32" />
<rect x="834" y="397" width="5" height="12" fill="#32cd32" />
<rect x="844" y="386" width="1" height="20" fill="#ff4500" />
<rect x="842" y="397" width="5" height="7" fill="#ff4500" />
<rect x="852" y="392" width="1" height="13" fill="#ff4500" />
<rect x="850" y="394" width="5" height="4" fill="#ff4500" />
<rect x="860" y="378" width="1" height="15" fill="#ff4500" />
<rect x="858" y="381" width="5" height="4" fill="#ff4500" />
<rect x="868" y="366" width="1" height="21" fill="#ff4500" />
<rect x="866" y="366" width="5" height="16" fill="#ff4500" />
<rect x="876" y="351" width="1" height="23" fill="#ff4500" />
<rect x="874" y="354" width="5" height="17" fill="#ff4500" />
<rect x="884" y="342" width="1" height="16" fill="#ff4500" />
<rect x="882" y="344" width="5" height="11" fill="#ff4500" />
<rect x="892" y="331" width="1" height="17" fill="#ff4500" />
<rect x="890" y="332" width="5" height="11" fill="#ff4500" />
<rect x="900" y="331" width="1" height="11" fill="#32cd32" />
<rect x="898" y="332" width="5" height="4" fill="#32cd32" />
<rect x="908" y="315" width="1" height="20" fill="#ff4500" />
<rect x="906" y="317" width="5" height="16" fill="#ff4500" />
<rect x="916" y="290" width="1" height="29" fill="#ff4500" />
<rect x="914" y="299" width="5" height="19" fill="#ff4500" />
<rect x="924" y="294" width="1" height="12" fill="#32cd32" />
<rect x="922" y="298" width="5" height="5" fill="#32cd32" />
<rect x="932" y="288" width="1" height="15" fill="#ff4500" />
<rect x="930" y="295" width="5" height="7" fill="#ff4500" />
<rect x="940" y="297" width="1" height="19" fill="#32cd32" />
<rect x="938" y="298" width="5" height="13" fill="#32cd32" />
<rect x="948" y="310" width="1" height="18" fill="#32cd32" />
<rect x="946" y="310" width="5" height="15" fill="#32cd32" />
<rect x="956" y="288" width="1" height="24" fill="#ff4500" />
<rect x="954" y="294" width="5" height="18" fill="#ff4500" />
<rect x="964" y="275" width="1" height="20" fill="#ff4500" />
<rect x="962" y="278" width="5" height="17" fill="#ff4500" />
<rect x="972" y="260" width="1" height="18" fill="#32cd32" />
<rect x="970" y="274" width="5" height="3" fill="#32cd32" />
<rect x="980" y="277" width="1" height="15" fill="#32cd32" />
<rect x="978" y="277" width="5" height="6" fill="#32cd32" />
<rect x="988" y="269" width="1" height="14" fill="#32cd32" />
<rect x="986" y="274" width="5" height="8" fill="#32cd32" />
<rect x="996" y="274" width="1" height="15" fill="#ff4500" />
<rect x="994" y="277" width="5" height="6" fill="#ff4500" />
<rect x="1004" y="263" width="1" height="22" fill="#ff4500" />
<rect x="1002" y="268" width="5" height="11" fill="#ff4500" />
<rect x="1012" y="251" width="1" height="36" fill="#32cd32" />
<rect x="1010" y="267" width="5" height="12" fill="#32cd32" />
<rect x="1020" y="274" width="1" height="17" fill="#32cd32" />
<rect x="1018" y="278" width="5" height="1" fill="#32cd32" />
<rect x="1028" y="233" width="1" height="47" fill="#ff4500" />
<rect x="1026" y="233" width="5" height="47" fill="#ff4500" />
<rect x="1036" y="173" width="1" height="45" fill="#ff4500" />
<rect x="1034" y="175" width="5" height="37" fill="#ff4500" />
<rect x="1044" y="106" width="1" height="73" fill="#ff4500" />
<rect x="1042" y="107" width="5" height="69" fill="#ff4500" />
<rect x="1052" y="112" width="1" height="42" fill="#32cd32" />
<rect x="1050" y="112" width="5" height="27" fill="#32cd32" />
<rect x="1060" y="124" width="1" height="38" fill="#32cd32" />
<rect x="1058" y="137" width="5" height="19" fill="#32cd32" />
<rect x="1068" y="137" width="1" height="21" fill="#32cd32" />
<rect x="1066" y="149" width="5" height="3" fill="#32cd32" />
<rect x="1076" y="136" width="1" height="46" fill="#32cd32" />
<rect x="1074" y="152" width="5" height="12" fill="#32cd32" />
<rect x="1084" y="151" width="1" height="20" fill="#ff4500" />
<rect x="1082" y="163" width="5" height="3" fill="#ff4500" />
<rect x="1092" y="155" width="1" height="19" fill="#32cd32" />
<rect x="1090" y="162" width="5" height="5" fill="#32cd32" />
<rect x="1100" y="140" width="1" height="29" fill="#32cd32" />
<rect x="1098" y="152" width="5" height="11" fill="#32cd32" />
<rect x="1108" y="126" width="1" height="39" fill="#ff4500" />
<rect x="1106" y="130" width="5" height="33" fill="#ff4500" />
<rect x="1116" y="68" width="1" height="56" fill="#ff4500" />
<rect x="1114" y="70" width="5" height="48" fill="#ff4500" />
<rect x="1124" y="62" width="1" height="61" fill="#32cd32" />
<rect x="1122" y="70" width="5" height="44" fill="#32cd32" />
<rect x="1132" y="95" width="1" height="21" fill="#ff4500" />
<rect x="1130" y="104" width="5" height="9" fill="#ff4500" />
<rect x="1140" y="93" width="1" height="22" fill="#ff4500" />
<rect x="1138" y="96" width="5" height="10" fill="#ff4500" />
<rect x="1148" y="81" width="1" height="27" fill="#ff4500" />
<rect x="1146" y="91" width="5" height="3" fill="#ff4500" />
<rect x="1156" y="76" width="1" height="39" fill="#ff4500" />
<rect x="1154" y="85" width="5" height="7" fill="#ff4500" />
<rect x="1164" y="89" width="1" height="25" fill="#32cd32" />
<rect x="1162" y="90" width="5" height="10" fill="#32cd32" />
<rect x="1172" y="82" width="1" height="38" fill="#32cd32" />
<rect x="1170" y="99" width="5" height="4" fill="#32cd32" />
<rect x="1180" y="119" width="1" height="43" fill="#32cd32" />
<rect x="1178" y="146" width="5" height="16" fill="#32cd32" />
<rect x="1188" y="147" width="1" height="28" fill="#32cd32" />
<rect x="1186" y="161" width="5" height="10" fill="#32cd32" />
<rect x="1196" y="145" width="1" height="29" fill="#ff4500" />
<rect x="1194" y="149" width="5" height="12" fill="#ff4500" />
<rect x="1204" y="138" width="1" height="23" fill="#ff4500" />
<rect x="1202" y="146" width="5" height="5" fill="#ff4500" />
<rect x="1212" y="112" width="1" height="20" fill="#ff4500" />
<rect x="1210" y="114" width="5" height="17" fill="#ff4500" />
<rect x="1220" y="103" width="1" height="43" fill="#32cd32" />
<rect x="1218" y="114" width="5" height="19" fill="#32cd32" />
<rect x="1228" y="128" width="1" height="25" fill="#32cd32" />
<rect x="1226" y="131" width="5" height="13" fill="#32cd32" />
<rect x="1236" y="127" width="1" height="30" fill="#32cd32" />
<rect x="1234" y="144" width="5" height="3" fill="#32cd32" />
<rect x="1244" y="131" width="1" height="19" fill="#32cd32" />
<rect x="1242" y="147" width="5" height="2" fill="#32cd32" />
<rect x="1252" y="142" width="1" height="20" fill="#32cd32" />
<rect x="1250" y="148" width="5" height="7" fill="#32cd32" />
<rect x="1260" y="107" width="1" height="41" fill="#ff4500" />
<rect x="1258" y="116" width="5" height="32" fill="#ff4500" />
<rect x="1268" y="115" width="1" height="30" fill="#32cd32" />
<rect x="1266" y="117" width="5" height="14" fill="#32cd32" />
<rect x="1276" y="98" width="1" height="38" fill="#ff4500" />
<rect x="1274" y="99" width="5" height="28" fill="#ff4500" />
<rect x="1284" y="72" width="1" height="37" fill="#ff4500" />
<rect x="1282" y="74" width="5" height="26" fill="#ff4500" />
<rect x="1292" y="69" width="1" height="21" fill="#32cd32" />
<rect x="1290" y="74" width="5" height="11" fill="#32cd32" />
<rect x="1300" y="81" width="1" height="16" fill="#32cd32" />
<rect x="1298" y="85" width="5" height="5" fill="#32cd32" />
<rect x="1308" y="77" width="1" height="33" fill="#32cd32" />
<rect x="1306" y="94" width="5" height="15" fill="#32cd32" />
<rect x="1316" y="84" width="1" height="26" fill="#ff4500" />
<rect x="1314" y="89" width="5" height="20" fill="#ff4500" />
<rect x="1324" y="77" width="1" height="19" fill="#ff4500" />
<rect x="1322" y="82" width="5" height="1" fill="#ff4500" />
<rect x="1332" y="73" width="1" height="22" fill="#32cd32" />
<rect x="1330" y="81" width="5" height="12" fill="#32cd32" />
</g>
<path d="M1340 38 L1351.5 38 L1345.7 44 Z" fill="#c0c0c0"/>
<path d="M15 50 L24.2 50 L19.6 44.6 Z" fill="#000"/>
<text x="30.4" y="51.6" font-size="12.4" fill="#000" textLength="77.1" lengthAdjust="spacingAndGlyphs" >CHINA300-,H4</text>
<text x="117.2" y="51.6" font-size="12.4" fill="#000" textLength="37.2" lengthAdjust="spacingAndGlyphs" >3852.0</text>
<text x="159.9" y="51.6" font-size="12.4" fill="#000" textLength="38.1" lengthAdjust="spacingAndGlyphs" >3868.4</text>
<text x="202.7" y="51.6" font-size="12.4" fill="#000" textLength="38.2" lengthAdjust="spacingAndGlyphs" >3825.8</text>
<text x="245.4" y="51.6" font-size="12.4" fill="#000" textLength="38.0" lengthAdjust="spacingAndGlyphs" >3829.1</text>
<rect x="1681" y="92" width="2" height="1" fill="#c0c0c0" shape-rendering="crispEdges"/>
<g shape-rendering="crispEdges">
<rect x="12" y="575" width="1" height="5" fill="#c0c0c0" />
<rect x="20" y="574" width="1" height="6" fill="#c0c0c0" />
<rect x="28" y="575" width="1" height="5" fill="#c0c0c0" />
<rect x="36" y="576" width="1" height="4" fill="#c0c0c0" />
<rect x="44" y="576" width="1" height="4" fill="#c0c0c0" />
<rect x="52" y="579" width="1" height="1" fill="#c0c0c0" />
<rect x="60" y="580" width="1" height="1" fill="#c0c0c0" />
<rect x="68" y="579" width="1" height="1" fill="#c0c0c0" />
<rect x="76" y="579" width="1" height="1" fill="#c0c0c0" />
<rect x="84" y="580" width="1" height="2" fill="#c0c0c0" />
<rect x="92" y="580" width="1" height="3" fill="#c0c0c0" />
<rect x="100" y="580" width="1" height="5" fill="#c0c0c0" />
<rect x="108" y="580" width="1" height="5" fill="#c0c0c0" />
<rect x="116" y="580" width="1" height="6" fill="#c0c0c0" />
<rect x="124" y="580" width="1" height="6" fill="#c0c0c0" />
<rect x="132" y="580" width="1" height="5" fill="#c0c0c0" />
<rect x="140" y="580" width="1" height="6" fill="#c0c0c0" />
<rect x="148" y="580" width="1" height="6" fill="#c0c0c0" />
<rect x="156" y="580" width="1" height="6" fill="#c0c0c0" />
<rect x="164" y="580" width="1" height="6" fill="#c0c0c0" />
<rect x="172" y="580" width="1" height="2" fill="#c0c0c0" />
<rect x="180" y="579" width="1" height="1" fill="#c0c0c0" />
<rect x="188" y="579" width="1" height="1" fill="#c0c0c0" />
<rect x="196" y="577" width="1" height="3" fill="#c0c0c0" />
<rect x="204" y="576" width="1" height="4" fill="#c0c0c0" />
<rect x="212" y="575" width="1" height="5" fill="#c0c0c0" />
<rect x="220" y="576" width="1" height="4" fill="#c0c0c0" />
<rect x="228" y="578" width="1" height="2" fill="#c0c0c0" />
<rect x="236" y="579" width="1" height="1" fill="#c0c0c0" />
<rect x="244" y="579" width="1" height="1" fill="#c0c0c0" />
<rect x="252" y="580" width="1" height="1" fill="#c0c0c0" />
<rect x="260" y="580" width="1" height="2" fill="#c0c0c0" />
<rect x="268" y="580" width="1" height="2" fill="#c0c0c0" />
<rect x="276" y="580" width="1" height="4" fill="#c0c0c0" />
<rect x="284" y="580" width="1" height="3" fill="#c0c0c0" />
<rect x="292" y="580" width="1" height="3" fill="#c0c0c0" />
<rect x="300" y="580" width="1" height="2" fill="#c0c0c0" />
<rect x="308" y="580" width="1" height="1" fill="#c0c0c0" />
<rect x="316" y="580" width="1" height="1" fill="#c0c0c0" />
<rect x="324" y="579" width="1" height="1" fill="#c0c0c0" />
<rect x="332" y="580" width="1" height="2" fill="#c0c0c0" />
<rect x="340" y="580" width="1" height="2" fill="#c0c0c0" />
<rect x="348" y="580" width="1" height="2" fill="#c0c0c0" />
<rect x="356" y="580" width="1" height="2" fill="#c0c0c0" />
<rect x="364" y="580" width="1" height="4" fill="#c0c0c0" />
<rect x="372" y="580" width="1" height="5" fill="#c0c0c0" />
<rect x="380" y="580" width="1" height="7" fill="#c0c0c0" />
<rect x="388" y="580" width="1" height="9" fill="#c0c0c0" />
<rect x="396" y="580" width="1" height="10" fill="#c0c0c0" />
<rect x="404" y="580" width="1" height="11" fill="#c0c0c0" />
<rect x="412" y="580" width="1" height="13" fill="#c0c0c0" />
<rect x="420" y="580" width="1" height="13" fill="#c0c0c0" />
<rect x="428" y="580" width="1" height="15" fill="#c0c0c0" />
<rect x="436" y="580" width="1" height="16" fill="#c0c0c0" />
<rect x="444" y="580" width="1" height="15" fill="#c0c0c0" />
<rect x="452" y="580" width="1" height="15" fill="#c0c0c0" />
<rect x="460" y="580" width="1" height="14" fill="#c0c0c0" />
<rect x="468" y="580" width="1" height="15" fill="#c0c0c0" />
<rect x="476" y="580" width="1" height="14" fill="#c0c0c0" />
<rect x="484" y="580" width="1" height="14" fill="#c0c0c0" />
<rect x="492" y="580" width="1" height="14" fill="#c0c0c0" />
<rect x="500" y="580" width="1" height="13" fill="#c0c0c0" />
<rect x="508" y="580" width="1" height="14" fill="#c0c0c0" />
<rect x="516" y="580" width="1" height="14" fill="#c0c0c0" />
<rect x="524" y="580" width="1" height="14" fill="#c0c0c0" />
<rect x="532" y="580" width="1" height="14" fill="#c0c0c0" />
<rect x="540" y="580" width="1" height="12" fill="#c0c0c0" />
<rect x="548" y="580" width="1" height="10" fill="#c0c0c0" />
<rect x="556" y="580" width="1" height="7" fill="#c0c0c0" />
<rect x="564" y="580" width="1" height="5" fill="#c0c0c0" />
<rect x="572" y="580" width="1" height="4" fill="#c0c0c0" />
<rect x="580" y="580" width="1" height="3" fill="#c0c0c0" />
<rect x="588" y="580" width="1" height="1" fill="#c0c0c0" />
<rect x="596" y="579" width="1" height="1" fill="#c0c0c0" />
<rect x="604" y="579" width="1" height="1" fill="#c0c0c0" />
<rect x="612" y="579" width="1" height="1" fill="#c0c0c0" />
<rect x="620" y="578" width="1" height="2" fill="#c0c0c0" />
<rect x="628" y="577" width="1" height="3" fill="#c0c0c0" />
<rect x="636" y="577" width="1" height="3" fill="#c0c0c0" />
<rect x="644" y="577" width="1" height="3" fill="#c0c0c0" />
<rect x="652" y="577" width="1" height="3" fill="#c0c0c0" />
<rect x="660" y="576" width="1" height="4" fill="#c0c0c0" />
<rect x="668" y="575" width="1" height="5" fill="#c0c0c0" />
<rect x="676" y="574" width="1" height="6" fill="#c0c0c0" />
<rect x="684" y="574" width="1" height="6" fill="#c0c0c0" />
<rect x="692" y="573" width="1" height="7" fill="#c0c0c0" />
<rect x="700" y="573" width="1" height="7" fill="#c0c0c0" />
<rect x="708" y="572" width="1" height="8" fill="#c0c0c0" />
<rect x="716" y="570" width="1" height="10" fill="#c0c0c0" />
<rect x="724" y="570" width="1" height="10" fill="#c0c0c0" />
<rect x="732" y="570" width="1" height="10" fill="#c0c0c0" />
<rect x="740" y="570" width="1" height="10" fill="#c0c0c0" />
<rect x="748" y="571" width="1" height="9" fill="#c0c0c0" />
<rect x="756" y="572" width="1" height="8" fill="#c0c0c0" />
<rect x="764" y="572" width="1" height="8" fill="#c0c0c0" />
<rect x="772" y="572" width="1" height="8" fill="#c0c0c0" />
<rect x="780" y="571" width="1" height="9" fill="#c0c0c0" />
<rect x="788" y="571" width="1" height="9" fill="#c0c0c0" />
<rect x="796" y="571" width="1" height="9" fill="#c0c0c0" />
<rect x="804" y="571" width="1" height="9" fill="#c0c0c0" />
<rect x="812" y="571" width="1" height="9" fill="#c0c0c0" />
<rect x="820" y="571" width="1" height="9" fill="#c0c0c0" />
<rect x="828" y="571" width="1" height="9" fill="#c0c0c0" />
<rect x="836" y="572" width="1" height="8" fill="#c0c0c0" />
<rect x="844" y="572" width="1" height="8" fill="#c0c0c0" />
<rect x="852" y="572" width="1" height="8" fill="#c0c0c0" />
<rect x="860" y="572" width="1" height="8" fill="#c0c0c0" />
<rect x="868" y="571" width="1" height="9" fill="#c0c0c0" />
<rect x="876" y="569" width="1" height="11" fill="#c0c0c0" />
<rect x="884" y="568" width="1" height="12" fill="#c0c0c0" />
<rect x="892" y="566" width="1" height="14" fill="#c0c0c0" />
<rect x="900" y="565" width="1" height="15" fill="#c0c0c0" />
<rect x="908" y="563" width="1" height="17" fill="#c0c0c0" />
<rect x="916" y="561" width="1" height="19" fill="#c0c0c0" />
<rect x="924" y="560" width="1" height="20" fill="#c0c0c0" />
<rect x="932" y="558" width="1" height="22" fill="#c0c0c0" />
<rect x="940" y="558" width="1" height="22" fill="#c0c0c0" />
<rect x="948" y="559" width="1" height="21" fill="#c0c0c0" />
<rect x="956" y="559" width="1" height="21" fill="#c0c0c0" />
<rect x="964" y="558" width="1" height="22" fill="#c0c0c0" />
<rect x="972" y="557" width="1" height="23" fill="#c0c0c0" />
<rect x="980" y="558" width="1" height="22" fill="#c0c0c0" />
<rect x="988" y="557" width="1" height="23" fill="#c0c0c0" />
<rect x="996" y="557" width="1" height="23" fill="#c0c0c0" />
<rect x="1004" y="557" width="1" height="23" fill="#c0c0c0" />
<rect x="1012" y="558" width="1" height="22" fill="#c0c0c0" />
<rect x="1020" y="559" width="1" height="21" fill="#c0c0c0" />
<rect x="1028" y="558" width="1" height="22" fill="#c0c0c0" />
<rect x="1036" y="555" width="1" height="25" fill="#c0c0c0" />
<rect x="1044" y="549" width="1" height="31" fill="#c0c0c0" />
<rect x="1052" y="545" width="1" height="35" fill="#c0c0c0" />
<rect x="1060" y="543" width="1" height="37" fill="#c0c0c0" />
<rect x="1068" y="542" width="1" height="38" fill="#c0c0c0" />
<rect x="1076" y="543" width="1" height="37" fill="#c0c0c0" />
<rect x="1084" y="543" width="1" height="37" fill="#c0c0c0" />
<rect x="1092" y="544" width="1" height="36" fill="#c0c0c0" />
<rect x="1100" y="545" width="1" height="35" fill="#c0c0c0" />
<rect x="1108" y="545" width="1" height="35" fill="#c0c0c0" />
<rect x="1116" y="544" width="1" height="36" fill="#c0c0c0" />
<rect x="1124" y="542" width="1" height="38" fill="#c0c0c0" />
<rect x="1132" y="542" width="1" height="38" fill="#c0c0c0" />
<rect x="1140" y="542" width="1" height="38" fill="#c0c0c0" />
<rect x="1148" y="543" width="1" height="37" fill="#c0c0c0" />
<rect x="1156" y="543" width="1" height="37" fill="#c0c0c0" />
<rect x="1164" y="545" width="1" height="35" fill="#c0c0c0" />
<rect x="1172" y="546" width="1" height="34" fill="#c0c0c0" />
<rect x="1180" y="551" width="1" height="29" fill="#c0c0c0" />
<rect x="1188" y="555" width="1" height="25" fill="#c0c0c0" />
<rect x="1196" y="558" width="1" height="22" fill="#c0c0c0" />
<rect x="1204" y="561" width="1" height="19" fill="#c0c0c0" />
<rect x="1212" y="561" width="1" height="19" fill="#c0c0c0" />
<rect x="1220" y="562" width="1" height="18" fill="#c0c0c0" />
<rect x="1228" y="564" width="1" height="16" fill="#c0c0c0" />
<rect x="1236" y="566" width="1" height="14" fill="#c0c0c0" />
<rect x="1244" y="567" width="1" height="13" fill="#c0c0c0" />
<rect x="1252" y="569" width="1" height="11" fill="#c0c0c0" />
<rect x="1260" y="569" width="1" height="11" fill="#c0c0c0" />
<rect x="1268" y="570" width="1" height="10" fill="#c0c0c0" />
<rect x="1276" y="569" width="1" height="11" fill="#c0c0c0" />
<rect x="1284" y="566" width="1" height="14" fill="#c0c0c0" />
<rect x="1292" y="566" width="1" height="14" fill="#c0c0c0" />
<rect x="1300" y="565" width="1" height="15" fill="#c0c0c0" />
<rect x="1308" y="566" width="1" height="14" fill="#c0c0c0" />
<rect x="1316" y="566" width="1" height="14" fill="#c0c0c0" />
<rect x="1324" y="566" width="1" height="14" fill="#c0c0c0" />
<rect x="1332" y="566" width="1" height="14" fill="#c0c0c0" />
<path d="M1127 542h2v1h-2zM1132 542h3v1h-3zM1138 542h3v1h-3zM1144 542h1v1h-1zM1102 543h3v1h-3zM1108 543h3v1h-3zM1114 543h3v1h-3zM1120 543h3v1h-3zM1126 543h1v1h-1zM1145 543h2v1h-2zM1150 543h3v1h-3zM1156 543h3v1h-3zM1162 543h3v1h-3zM1168 543h3v1h-3zM1174 543h3v1h-3zM1180 543h2v1h-2zM1097 544h2v1h-2zM1182 544h1v1h-1zM1096 545h1v1h-1zM1186 545h3v1h-3zM1090 546h3v1h-3zM1192 546h3v1h-3zM1198 546h2v1h-2zM1084 547h3v1h-3zM1200 547h1v1h-1zM1204 547h2v1h-2zM1078 548h3v1h-3zM1206 548h1v1h-1zM1073 549h2v1h-2zM1210 549h1v1h-1zM1072 550h1v1h-1zM1211 550h2v1h-2zM1066 551h3v1h-3zM1216 551h1v1h-1zM1060 552h3v1h-3zM1217 552h2v1h-2zM1054 553h3v1h-3zM1222 553h1v1h-1zM1049 554h2v1h-2zM1223 554h2v1h-2zM1048 555h1v1h-1zM1228 555h3v1h-3zM1042 556h3v1h-3zM977 557h2v1h-2zM982 557h3v1h-3zM988 557h3v1h-3zM994 557h3v1h-3zM1000 557h3v1h-3zM1006 557h3v1h-3zM1012 557h3v1h-3zM1018 557h3v1h-3zM1024 557h3v1h-3zM1030 557h3v1h-3zM1036 557h3v1h-3zM1234 557h3v1h-3zM964 558h3v1h-3zM970 558h3v1h-3zM976 558h1v1h-1zM958 559h3v1h-3zM1240 559h2v1h-2zM952 560h3v1h-3zM1242 560h1v1h-1zM1246 560h1v1h-1zM946 561h3v1h-3zM1247 561h2v1h-2zM1252 561h3v1h-3zM940 562h3v1h-3zM1258 562h3v1h-3zM929 563h2v1h-2zM934 563h3v1h-3zM1264 563h3v1h-3zM924 564h1v1h-1zM928 564h1v1h-1zM922 565h2v1h-2zM1270 565h3v1h-3zM1276 565h2v1h-2zM916 566h3v1h-3zM1278 566h1v1h-1zM1282 566h3v1h-3zM1313 566h2v1h-2zM1318 566h3v1h-3zM1324 566h3v1h-3zM1330 566h3v1h-3zM910 567h3v1h-3zM1288 567h3v1h-3zM1294 567h3v1h-3zM1300 567h3v1h-3zM1306 567h3v1h-3zM1312 567h1v1h-1zM904 568h3v1h-3zM892 569h3v1h-3zM898 569h3v1h-3zM738 570h1v1h-1zM742 570h3v1h-3zM748 570h3v1h-3zM754 570h3v1h-3zM760 570h3v1h-3zM766 570h3v1h-3zM772 570h3v1h-3zM778 570h3v1h-3zM784 570h3v1h-3zM790 570h3v1h-3zM796 570h3v1h-3zM802 570h3v1h-3zM808 570h3v1h-3zM814 570h3v1h-3zM820 570h3v1h-3zM826 570h3v1h-3zM832 570h3v1h-3zM838 570h3v1h-3zM844 570h3v1h-3zM850 570h3v1h-3zM856 570h3v1h-3zM862 570h3v1h-3zM868 570h3v1h-3zM874 570h3v1h-3zM880 570h3v1h-3zM886 570h3v1h-3zM724 571h3v1h-3zM730 571h3v1h-3zM736 571h2v1h-2zM714 572h1v1h-1zM718 572h3v1h-3zM706 573h3v1h-3zM712 573h2v1h-2zM695 574h2v1h-2zM700 574h3v1h-3zM34 575h3v1h-3zM40 575h3v1h-3zM46 575h3v1h-3zM52 575h3v1h-3zM58 575h3v1h-3zM64 575h3v1h-3zM70 575h3v1h-3zM76 575h3v1h-3zM688 575h3v1h-3zM694 575h1v1h-1zM22 576h3v1h-3zM28 576h3v1h-3zM82 576h3v1h-3zM676 576h3v1h-3zM682 576h3v1h-3zM10 577h3v1h-3zM16 577h3v1h-3zM88 577h3v1h-3zM232 577h3v1h-3zM238 577h3v1h-3zM244 577h3v1h-3zM250 577h3v1h-3zM256 577h3v1h-3zM262 577h3v1h-3zM664 577h3v1h-3zM670 577h3v1h-3zM94 578h3v1h-3zM226 578h3v1h-3zM268 578h3v1h-3zM274 578h1v1h-1zM647 578h2v1h-2zM652 578h3v1h-3zM658 578h3v1h-3zM100 579h3v1h-3zM106 579h1v1h-1zM220 579h3v1h-3zM275 579h2v1h-2zM280 579h3v1h-3zM640 579h3v1h-3zM646 579h1v1h-1zM107 580h2v1h-2zM112 580h1v1h-1zM208 580h3v1h-3zM214 580h3v1h-3zM286 580h3v1h-3zM292 580h3v1h-3zM298 580h3v1h-3zM304 580h3v1h-3zM310 580h3v1h-3zM316 580h3v1h-3zM322 580h3v1h-3zM328 580h3v1h-3zM334 580h3v1h-3zM340 580h3v1h-3zM346 580h3v1h-3zM352 580h3v1h-3zM634 580h3v1h-3zM113 581h2v1h-2zM118 581h1v1h-1zM196 581h3v1h-3zM202 581h3v1h-3zM358 581h3v1h-3zM364 581h3v1h-3zM370 581h3v1h-3zM628 581h3v1h-3zM119 582h2v1h-2zM190 582h3v1h-3zM376 582h3v1h-3zM622 582h3v1h-3zM124 583h3v1h-3zM130 583h3v1h-3zM184 583h3v1h-3zM382 583h3v1h-3zM616 583h3v1h-3zM136 584h3v1h-3zM142 584h3v1h-3zM148 584h3v1h-3zM154 584h3v1h-3zM160 584h1v1h-1zM178 584h3v1h-3zM388 584h3v1h-3zM610 584h3v1h-3zM161 585h2v1h-2zM166 585h3v1h-3zM172 585h3v1h-3zM394 585h3v1h-3zM400 585h3v1h-3zM604 585h3v1h-3zM406 586h3v1h-3zM599 586h2v1h-2zM412 587h2v1h-2zM593 587h2v1h-2zM598 587h1v1h-1zM414 588h1v1h-1zM587 588h2v1h-2zM592 588h1v1h-1zM418 589h3v1h-3zM580 589h3v1h-3zM586 589h1v1h-1zM424 590h3v1h-3zM430 590h1v1h-1zM574 590h3v1h-3zM431 591h2v1h-2zM436 591h3v1h-3zM564 591h1v1h-1zM568 591h3v1h-3zM442 592h3v1h-3zM556 592h3v1h-3zM562 592h2v1h-2zM448 593h3v1h-3zM454 593h3v1h-3zM544 593h3v1h-3zM550 593h3v1h-3zM460 594h3v1h-3zM516 594h1v1h-1zM520 594h3v1h-3zM526 594h3v1h-3zM532 594h3v1h-3zM538 594h3v1h-3zM466 595h3v1h-3zM472 595h3v1h-3zM478 595h3v1h-3zM484 595h3v1h-3zM490 595h3v1h-3zM496 595h3v1h-3zM502 595h3v1h-3zM508 595h3v1h-3zM514 595h2v1h-2z" fill="#ff0000"/>
</g>
<text x="16.2" y="553" font-size="12.4" fill="#000" textLength="155.8" lengthAdjust="spacingAndGlyphs" >MACD(12,26,9) 43.61 40.94</text>
<g shape-rendering="crispEdges">
<line x1="12" y1="641.5" x2="1681" y2="641.5" stroke="#c0c0c0" stroke-dasharray="3 3"/>
<line x1="12" y1="691.5" x2="1681" y2="691.5" stroke="#c0c0c0" stroke-dasharray="3 3"/>
<path d="M1044 618h1v1h-1zM1042 619h2v1h-2zM1045 619h1v2h-1zM1040 620h2v1h-2zM1038 621h2v1h-2zM1046 621h1v1h-1zM1036 622h2v1h-2zM1047 622h1v2h-1zM1035 623h1v1h-1zM1034 624h1v1h-1zM1048 624h1v1h-1zM915 625h3v1h-3zM1033 625h1v1h-1zM1049 625h1v2h-1zM913 626h2v1h-2zM918 626h3v1h-3zM931 626h2v1h-2zM1032 626h1v1h-1zM910 627h3v1h-3zM921 627h2v1h-2zM927 627h4v1h-4zM933 627h1v2h-1zM1031 627h1v1h-1zM1050 627h1v1h-1zM908 628h2v1h-2zM923 628h4v1h-4zM1030 628h1v1h-1zM1051 628h1v2h-1zM1116 628h1v1h-1zM906 629h2v1h-2zM934 629h1v1h-1zM1029 629h1v1h-1zM1115 629h1v1h-1zM1117 629h1v2h-1zM905 630h1v1h-1zM935 630h1v1h-1zM1028 630h1v1h-1zM1052 630h1v1h-1zM1114 630h1v1h-1zM891 631h4v1h-4zM903 631h2v1h-2zM936 631h1v2h-1zM1027 631h1v2h-1zM1053 631h2v1h-2zM1113 631h1v1h-1zM1118 631h1v2h-1zM889 632h2v1h-2zM895 632h4v1h-4zM901 632h2v1h-2zM1055 632h1v1h-1zM1111 632h2v1h-2zM886 633h3v1h-3zM899 633h2v1h-2zM937 633h1v1h-1zM1026 633h1v1h-1zM1056 633h1v1h-1zM1110 633h1v1h-1zM1119 633h1v2h-1zM883 634h3v1h-3zM938 634h1v1h-1zM969 634h4v1h-4zM1025 634h1v2h-1zM1057 634h2v1h-2zM1109 634h1v1h-1zM879 635h4v1h-4zM939 635h1v2h-1zM963 635h6v1h-6zM973 635h2v1h-2zM1003 635h2v1h-2zM1059 635h1v1h-1zM1108 635h1v1h-1zM1120 635h1v2h-1zM876 636h3v1h-3zM961 636h2v1h-2zM975 636h2v1h-2zM999 636h4v1h-4zM1005 636h1v1h-1zM1024 636h1v1h-1zM1060 636h10v1h-10zM1107 636h1v1h-1zM874 637h2v1h-2zM940 637h1v1h-1zM958 637h3v1h-3zM977 637h1v1h-1zM993 637h6v1h-6zM1006 637h1v1h-1zM1023 637h1v2h-1zM1070 637h2v1h-2zM1105 637h2v1h-2zM1121 637h1v2h-1zM872 638h2v1h-2zM941 638h1v1h-1zM956 638h2v1h-2zM978 638h2v1h-2zM985 638h8v1h-8zM1007 638h2v1h-2zM1072 638h2v1h-2zM1104 638h1v1h-1zM870 639h2v1h-2zM942 639h1v2h-1zM955 639h1v1h-1zM980 639h5v1h-5zM1009 639h1v1h-1zM1022 639h1v1h-1zM1074 639h2v1h-2zM1103 639h1v1h-1zM1122 639h1v2h-1zM1153 639h4v1h-4zM868 640h2v1h-2zM954 640h1v1h-1zM1010 640h1v1h-1zM1021 640h1v2h-1zM1076 640h13v1h-13zM1101 640h2v1h-2zM1139 640h14v1h-14zM1157 640h2v1h-2zM866 641h2v1h-2zM943 641h1v1h-1zM953 641h1v1h-1zM1011 641h1v1h-1zM1089 641h12v1h-12zM1123 641h1v2h-1zM1135 641h4v1h-4zM1159 641h2v1h-2zM865 642h1v1h-1zM944 642h1v1h-1zM952 642h1v2h-1zM1012 642h9v1h-9zM1129 642h6v1h-6zM1161 642h1v1h-1zM716 643h2v1h-2zM863 643h2v1h-2zM945 643h1v1h-1zM1124 643h5v1h-5zM1162 643h2v1h-2zM714 644h2v1h-2zM718 644h3v1h-3zM861 644h2v1h-2zM946 644h1v2h-1zM951 644h1v1h-1zM1164 644h3v1h-3zM712 645h2v1h-2zM721 645h2v1h-2zM860 645h1v1h-1zM950 645h1v1h-1zM1167 645h4v1h-4zM710 646h2v1h-2zM723 646h2v1h-2zM796 646h1v1h-1zM859 646h1v1h-1zM947 646h1v1h-1zM949 646h1v1h-1zM1171 646h2v1h-2zM683 647h2v1h-2zM708 647h2v1h-2zM725 647h1v1h-1zM794 647h2v1h-2zM797 647h1v1h-1zM857 647h2v1h-2zM948 647h1v1h-1zM1172 647h1v1h-1zM1284 647h2v1h-2zM588 648h1v1h-1zM681 648h2v1h-2zM685 648h1v1h-1zM706 648h2v1h-2zM726 648h1v1h-1zM780 648h3v1h-3zM792 648h2v1h-2zM798 648h1v1h-1zM856 648h1v1h-1zM1173 648h1v2h-1zM1282 648h2v1h-2zM1286 648h2v1h-2zM587 649h1v2h-1zM589 649h1v2h-1zM678 649h3v1h-3zM686 649h1v2h-1zM704 649h2v1h-2zM727 649h2v1h-2zM779 649h1v1h-1zM783 649h4v1h-4zM790 649h2v1h-2zM799 649h1v1h-1zM855 649h1v1h-1zM1281 649h1v1h-1zM1288 649h2v1h-2zM659 650h4v1h-4zM675 650h3v1h-3zM702 650h2v1h-2zM729 650h1v1h-1zM777 650h2v1h-2zM787 650h3v1h-3zM800 650h1v1h-1zM819 650h10v1h-10zM853 650h2v1h-2zM1174 650h1v2h-1zM1279 650h2v1h-2zM1290 650h2v1h-2zM172 651h2v1h-2zM586 651h1v2h-1zM590 651h1v1h-1zM655 651h4v1h-4zM663 651h4v1h-4zM671 651h4v1h-4zM687 651h1v1h-1zM700 651h2v1h-2zM730 651h1v1h-1zM776 651h1v1h-1zM801 651h1v1h-1zM817 651h2v1h-2zM829 651h1v1h-1zM849 651h4v1h-4zM1277 651h2v1h-2zM1292 651h5v1h-5zM172 652h1v1h-1zM174 652h2v1h-2zM591 652h1v2h-1zM652 652h3v1h-3zM667 652h4v1h-4zM688 652h1v1h-1zM699 652h1v1h-1zM731 652h1v1h-1zM775 652h1v1h-1zM802 652h1v1h-1zM814 652h3v1h-3zM830 652h1v1h-1zM844 652h5v1h-5zM1175 652h1v2h-1zM1276 652h1v1h-1zM1297 652h4v1h-4zM1323 652h3v1h-3zM171 653h1v2h-1zM176 653h2v1h-2zM201 653h5v1h-5zM585 653h1v2h-1zM651 653h1v2h-1zM689 653h1v1h-1zM697 653h2v1h-2zM732 653h2v1h-2zM773 653h2v1h-2zM803 653h1v1h-1zM809 653h5v1h-5zM831 653h1v1h-1zM843 653h1v1h-1zM1212 653h1v1h-1zM1275 653h1v1h-1zM1301 653h1v1h-1zM1319 653h4v1h-4zM1326 653h3v1h-3zM19 654h2v1h-2zM178 654h2v1h-2zM193 654h8v1h-8zM206 654h2v1h-2zM592 654h1v1h-1zM690 654h1v2h-1zM696 654h1v1h-1zM734 654h2v1h-2zM769 654h4v1h-4zM804 654h5v1h-5zM832 654h1v2h-1zM842 654h1v1h-1zM1176 654h1v2h-1zM1211 654h1v1h-1zM1213 654h2v1h-2zM1274 654h1v1h-1zM1302 654h1v1h-1zM1316 654h3v1h-3zM1329 654h2v1h-2zM17 655h2v1h-2zM21 655h1v2h-1zM170 655h1v2h-1zM180 655h13v1h-13zM208 655h2v1h-2zM300 655h2v1h-2zM584 655h1v1h-1zM593 655h1v2h-1zM604 655h1v1h-1zM628 655h1v1h-1zM650 655h1v1h-1zM695 655h1v1h-1zM736 655h2v1h-2zM764 655h5v1h-5zM841 655h1v1h-1zM1210 655h1v1h-1zM1215 655h1v1h-1zM1260 655h2v1h-2zM1273 655h1v1h-1zM1303 655h2v1h-2zM1314 655h2v1h-2zM1331 655h2v1h-2zM14 656h3v1h-3zM210 656h2v1h-2zM299 656h1v2h-1zM302 656h3v1h-3zM583 656h1v2h-1zM602 656h2v1h-2zM605 656h2v1h-2zM626 656h2v1h-2zM629 656h1v1h-1zM649 656h1v1h-1zM691 656h1v1h-1zM693 656h2v1h-2zM738 656h2v1h-2zM762 656h2v1h-2zM833 656h1v1h-1zM839 656h2v1h-2zM1177 656h1v2h-1zM1209 656h1v1h-1zM1216 656h1v1h-1zM1259 656h1v1h-1zM1262 656h2v1h-2zM1271 656h2v1h-2zM1305 656h1v1h-1zM1313 656h1v1h-1zM12 657h2v1h-2zM22 657h1v2h-1zM169 657h1v2h-1zM212 657h1v1h-1zM305 657h2v1h-2zM594 657h1v1h-1zM601 657h1v1h-1zM607 657h2v1h-2zM624 657h2v1h-2zM630 657h1v1h-1zM648 657h1v2h-1zM692 657h1v1h-1zM740 657h10v1h-10zM761 657h1v1h-1zM834 657h1v1h-1zM838 657h1v1h-1zM1207 657h2v1h-2zM1217 657h2v1h-2zM1258 657h1v2h-1zM1264 657h2v1h-2zM1270 657h1v1h-1zM1306 657h1v1h-1zM1311 657h2v1h-2zM213 658h1v2h-1zM298 658h1v2h-1zM307 658h2v1h-2zM582 658h1v2h-1zM595 658h1v2h-1zM599 658h2v1h-2zM609 658h1v1h-1zM622 658h2v1h-2zM631 658h1v1h-1zM750 658h3v1h-3zM759 658h2v1h-2zM835 658h1v1h-1zM837 658h1v1h-1zM1178 658h1v2h-1zM1206 658h1v1h-1zM1219 658h1v1h-1zM1266 658h2v1h-2zM1269 658h1v1h-1zM1307 658h1v1h-1zM1309 658h2v1h-2zM23 659h1v1h-1zM168 659h1v3h-1zM309 659h1v1h-1zM597 659h2v1h-2zM610 659h2v1h-2zM617 659h5v1h-5zM632 659h1v1h-1zM647 659h1v1h-1zM753 659h2v1h-2zM757 659h2v1h-2zM836 659h1v1h-1zM1205 659h1v1h-1zM1220 659h2v1h-2zM1257 659h1v1h-1zM1268 659h1v1h-1zM1308 659h1v1h-1zM24 660h1v2h-1zM214 660h1v1h-1zM297 660h1v2h-1zM310 660h1v1h-1zM581 660h1v2h-1zM596 660h1v1h-1zM612 660h5v1h-5zM633 660h1v1h-1zM646 660h1v1h-1zM755 660h2v1h-2zM1179 660h1v2h-1zM1201 660h4v1h-4zM1222 660h3v1h-3zM1256 660h1v1h-1zM215 661h1v2h-1zM311 661h1v1h-1zM634 661h1v1h-1zM645 661h1v2h-1zM1196 661h5v1h-5zM1225 661h2v1h-2zM1255 661h1v1h-1zM25 662h1v1h-1zM167 662h1v2h-1zM296 662h1v2h-1zM312 662h1v1h-1zM569 662h12v1h-12zM635 662h1v1h-1zM1180 662h1v1h-1zM1194 662h2v1h-2zM1227 662h6v1h-6zM1254 662h1v2h-1zM26 663h1v2h-1zM216 663h1v1h-1zM313 663h1v1h-1zM561 663h8v1h-8zM636 663h9v1h-9zM1180 663h2v1h-2zM1193 663h1v1h-1zM1233 663h14v1h-14zM166 664h1v2h-1zM217 664h1v2h-1zM295 664h1v2h-1zM314 664h1v1h-1zM553 664h8v1h-8zM1182 664h3v1h-3zM1191 664h2v1h-2zM1247 664h4v1h-4zM1253 664h1v1h-1zM27 665h1v2h-1zM315 665h1v1h-1zM547 665h6v1h-6zM1185 665h2v1h-2zM1189 665h2v1h-2zM1251 665h2v1h-2zM165 666h1v2h-1zM218 666h1v1h-1zM294 666h1v2h-1zM316 666h1v1h-1zM543 666h4v1h-4zM1187 666h2v1h-2zM28 667h25v1h-25zM219 667h1v2h-1zM317 667h2v1h-2zM540 667h3v1h-3zM53 668h2v1h-2zM68 668h1v1h-1zM139 668h2v1h-2zM164 668h1v1h-1zM293 668h1v2h-1zM319 668h2v1h-2zM540 668h1v1h-1zM55 669h1v1h-1zM66 669h2v1h-2zM69 669h1v1h-1zM124 669h5v1h-5zM135 669h4v1h-4zM141 669h1v1h-1zM163 669h2v1h-2zM220 669h5v1h-5zM321 669h1v1h-1zM539 669h1v3h-1zM56 670h1v1h-1zM65 670h1v1h-1zM70 670h1v1h-1zM123 670h1v1h-1zM129 670h6v1h-6zM142 670h1v1h-1zM161 670h2v1h-2zM225 670h14v1h-14zM292 670h1v1h-1zM322 670h2v1h-2zM57 671h2v1h-2zM63 671h2v1h-2zM71 671h1v1h-1zM122 671h1v2h-1zM143 671h1v1h-1zM158 671h3v1h-3zM239 671h4v1h-4zM291 671h2v1h-2zM324 671h5v1h-5zM337 671h4v1h-4zM59 672h1v1h-1zM61 672h2v1h-2zM72 672h1v1h-1zM144 672h1v1h-1zM156 672h2v1h-2zM243 672h2v1h-2zM287 672h4v1h-4zM329 672h8v1h-8zM341 672h1v1h-1zM538 672h1v2h-1zM60 673h1v1h-1zM73 673h1v1h-1zM121 673h1v1h-1zM145 673h1v1h-1zM154 673h2v1h-2zM245 673h2v1h-2zM275 673h12v1h-12zM342 673h1v1h-1zM74 674h1v1h-1zM120 674h1v1h-1zM146 674h1v1h-1zM152 674h2v1h-2zM247 674h2v1h-2zM273 674h2v1h-2zM343 674h1v1h-1zM537 674h1v3h-1zM75 675h1v1h-1zM119 675h1v1h-1zM147 675h1v1h-1zM150 675h2v1h-2zM249 675h1v1h-1zM270 675h3v1h-3zM344 675h1v2h-1zM76 676h2v1h-2zM118 676h1v2h-1zM148 676h2v1h-2zM250 676h2v1h-2zM265 676h5v1h-5zM78 677h2v1h-2zM91 677h3v1h-3zM107 677h4v1h-4zM252 677h13v1h-13zM345 677h1v1h-1zM536 677h1v3h-1zM80 678h2v1h-2zM89 678h2v1h-2zM94 678h3v1h-3zM105 678h2v1h-2zM111 678h4v1h-4zM117 678h1v1h-1zM346 678h1v1h-1zM355 678h10v1h-10zM82 679h2v1h-2zM86 679h3v1h-3zM97 679h2v1h-2zM102 679h3v1h-3zM115 679h2v1h-2zM347 679h1v1h-1zM351 679h4v1h-4zM365 679h1v1h-1zM84 680h2v1h-2zM99 680h3v1h-3zM348 680h3v1h-3zM366 680h1v1h-1zM460 680h2v1h-2zM535 680h1v3h-1zM367 681h1v1h-1zM458 681h2v1h-2zM462 681h2v1h-2zM368 682h1v1h-1zM457 682h1v1h-1zM464 682h2v1h-2zM475 682h6v1h-6zM369 683h1v1h-1zM436 683h3v1h-3zM455 683h2v1h-2zM466 683h2v1h-2zM471 683h4v1h-4zM481 683h20v1h-20zM534 683h1v2h-1zM370 684h1v1h-1zM436 684h1v1h-1zM439 684h4v1h-4zM453 684h2v1h-2zM468 684h3v1h-3zM501 684h2v1h-2zM371 685h1v1h-1zM435 685h1v2h-1zM443 685h10v1h-10zM503 685h2v1h-2zM533 685h1v3h-1zM372 686h2v1h-2zM505 686h1v1h-1zM374 687h2v1h-2zM387 687h2v1h-2zM434 687h1v2h-1zM506 687h2v1h-2zM376 688h2v1h-2zM385 688h2v1h-2zM389 688h2v1h-2zM508 688h5v1h-5zM521 688h8v1h-8zM532 688h1v1h-1zM378 689h2v1h-2zM382 689h3v1h-3zM391 689h1v1h-1zM433 689h1v2h-1zM513 689h8v1h-8zM529 689h4v1h-4zM380 690h2v1h-2zM392 690h1v1h-1zM417 690h4v1h-4zM393 691h2v1h-2zM409 691h8v1h-8zM421 691h1v1h-1zM432 691h1v2h-1zM395 692h1v1h-1zM401 692h8v1h-8zM422 692h1v2h-1zM396 693h5v1h-5zM431 693h1v2h-1zM423 694h1v1h-1zM424 695h1v1h-1zM430 695h1v2h-1zM425 696h1v1h-1zM426 697h1v2h-1zM429 697h1v2h-1zM427 699h2v1h-2zM428 700h1v1h-1z" fill="#1e90ff"/>
</g>
<text x="16.2" y="617" font-size="12.4" fill="#000" textLength="90.8" lengthAdjust="spacingAndGlyphs" >RSI(14) 57.7461</text>
<g shape-rendering="crispEdges">
<rect x="1682" y="75" width="3" height="1" fill="#000" />
<rect x="1682" y="124" width="3" height="1" fill="#000" />
<rect x="1682" y="173" width="3" height="1" fill="#000" />
<rect x="1682" y="222" width="3" height="1" fill="#000" />
<rect x="1682" y="271" width="3" height="1" fill="#000" />
<rect x="1682" y="320" width="3" height="1" fill="#000" />
<rect x="1682" y="369" width="3" height="1" fill="#000" />
<rect x="1682" y="418" width="3" height="1" fill="#000" />
<rect x="1682" y="467" width="3" height="1" fill="#000" />
<rect x="1682" y="516" width="3" height="1" fill="#000" />
<rect x="1682" y="539" width="2" height="1" fill="#000" />
<rect x="1682" y="579" width="2" height="1" fill="#000" />
<rect x="1682" y="598" width="1" height="1" fill="#000" />
<rect x="1682" y="603" width="1" height="1" fill="#000" />
</g>
<text x="1688.5" y="80" font-size="12.4" fill="#000" textLength="37.7" lengthAdjust="spacingAndGlyphs" >3865.0</text>
<text x="1688.5" y="129" font-size="12.4" fill="#000" textLength="37.7" lengthAdjust="spacingAndGlyphs" >3763.0</text>
<text x="1688.5" y="178" font-size="12.4" fill="#000" textLength="37.7" lengthAdjust="spacingAndGlyphs" >3663.0</text>
<text x="1688.5" y="227" font-size="12.4" fill="#000" textLength="37.7" lengthAdjust="spacingAndGlyphs" >3561.0</text>
<text x="1688.5" y="276" font-size="12.4" fill="#000" textLength="37.7" lengthAdjust="spacingAndGlyphs" >3461.0</text>
<text x="1688.5" y="325" font-size="12.4" fill="#000" textLength="37.7" lengthAdjust="spacingAndGlyphs" >3359.0</text>
<text x="1688.5" y="374" font-size="12.4" fill="#000" textLength="37.7" lengthAdjust="spacingAndGlyphs" >3259.0</text>
<text x="1688.5" y="423" font-size="12.4" fill="#000" textLength="37.7" lengthAdjust="spacingAndGlyphs" >3157.0</text>
<text x="1688.5" y="472" font-size="12.4" fill="#000" textLength="37.7" lengthAdjust="spacingAndGlyphs" >3057.0</text>
<text x="1688.5" y="521" font-size="12.4" fill="#000" textLength="37.7" lengthAdjust="spacingAndGlyphs" >2955.0</text>
<rect x="1683" y="528" width="48" height="14" fill="#ff0000" shape-rendering="crispEdges"/>
<text x="1688.5" y="540" font-size="12.4" fill="#fff" textLength="37.7" lengthAdjust="spacingAndGlyphs" >2917.6</text>
<rect x="1683" y="520" width="48" height="14" fill="#008000" shape-rendering="crispEdges"/>
<text x="1688.5" y="532" font-size="12.4" fill="#fff" textLength="37.7" lengthAdjust="spacingAndGlyphs" >2933.8</text>
<rect x="1683" y="39" width="48" height="14" fill="#ff0000" shape-rendering="crispEdges"/>
<text x="1688.5" y="51" font-size="12.4" fill="#fff" textLength="37.7" lengthAdjust="spacingAndGlyphs" >3926.6</text>
<rect x="1683" y="86" width="48" height="13" fill="#000000" shape-rendering="crispEdges"/>
<text x="1688.5" y="97.4" font-size="12.4" fill="#fff" textLength="37.7" lengthAdjust="spacingAndGlyphs" >3829.1</text>
<rect x="1683" y="100" width="48" height="14" fill="#00fa6c" shape-rendering="crispEdges"/>
<text x="1688.5" y="112" font-size="12.4" fill="#fff" textLength="37.7" lengthAdjust="spacingAndGlyphs" >3800.0</text>
<rect x="1683" y="160" width="48" height="14" fill="#0000ff" shape-rendering="crispEdges"/>
<text x="1688.5" y="172" font-size="12.4" fill="#fff" textLength="37.7" lengthAdjust="spacingAndGlyphs" >3676.5</text>
<rect x="1683" y="209" width="48" height="14" fill="#0000ff" shape-rendering="crispEdges"/>
<text x="1688.5" y="221" font-size="12.4" fill="#fff" textLength="37.7" lengthAdjust="spacingAndGlyphs" >3576.0</text>
<text x="1686" y="551.5" font-size="12.4" fill="#000" textLength="37.5" lengthAdjust="spacingAndGlyphs" >121.84</text>
<text x="1686" y="584" font-size="12.4" fill="#000" textLength="24.3" lengthAdjust="spacingAndGlyphs" >0.00</text>
<text x="1686" y="596.2" font-size="12.4" fill="#000" textLength="35" lengthAdjust="spacingAndGlyphs" >-57.26</text>
<text x="1685" y="615" font-size="12.4" fill="#000" textLength="20" lengthAdjust="spacingAndGlyphs" >100</text>
<text x="1685" y="645.7" font-size="12.4" fill="#000" textLength="13.3" lengthAdjust="spacingAndGlyphs" >70</text>
<text x="1685" y="695.5" font-size="12.4" fill="#000" textLength="13.3" lengthAdjust="spacingAndGlyphs" >30</text>
<text x="1685" y="727.2" font-size="12.4" fill="#000" >0</text>
<rect x="12" y="731" width="1" height="3" fill="#000" shape-rendering="crispEdges"/>
<text x="11.7" y="746" font-size="12.4" fill="#000" >19 Nov 2018</text>
<rect x="108" y="731" width="1" height="3" fill="#000" shape-rendering="crispEdges"/>
<text x="107.7" y="746" font-size="12.4" fill="#000" >27 Nov 01:30</text>
<rect x="204" y="731" width="1" height="3" fill="#000" shape-rendering="crispEdges"/>
<text x="203.7" y="746" font-size="12.4" fill="#000" >5 Dec 01:30</text>
<rect x="300" y="731" width="1" height="3" fill="#000" shape-rendering="crispEdges"/>
<text x="299.7" y="746" font-size="12.4" fill="#000" >13 Dec 01:30</text>
<rect x="396" y="731" width="1" height="3" fill="#000" shape-rendering="crispEdges"/>
<text x="395.7" y="746" font-size="12.4" fill="#000" >21 Dec 01:30</text>
<rect x="492" y="731" width="1" height="3" fill="#000" shape-rendering="crispEdges"/>
<text x="491.7" y="746" font-size="12.4" fill="#000" >31 Dec 01:30</text>
<rect x="588" y="731" width="1" height="3" fill="#000" shape-rendering="crispEdges"/>
<text x="587.7" y="746" font-size="12.4" fill="#000" >9 Jan 01:30</text>
<rect x="684" y="731" width="1" height="3" fill="#000" shape-rendering="crispEdges"/>
<text x="683.7" y="746" font-size="12.4" fill="#000" >17 Jan 01:30</text>
<rect x="780" y="731" width="1" height="3" fill="#000" shape-rendering="crispEdges"/>
<text x="779.7" y="746" font-size="12.4" fill="#000" >25 Jan 01:30</text>
<rect x="876" y="731" width="1" height="3" fill="#000" shape-rendering="crispEdges"/>
<text x="875.7" y="746" font-size="12.4" fill="#000" >11 Feb 01:30</text>
<rect x="972" y="731" width="1" height="3" fill="#000" shape-rendering="crispEdges"/>
<text x="971.7" y="746" font-size="12.4" fill="#000" >19 Feb 01:30</text>
<rect x="1068" y="731" width="1" height="3" fill="#000" shape-rendering="crispEdges"/>
<text x="1067.7" y="746" font-size="12.4" fill="#000" >27 Feb 01:30</text>
<rect x="1164" y="731" width="1" height="3" fill="#000" shape-rendering="crispEdges"/>
<text x="1163.7" y="746" font-size="12.4" fill="#000" >7 Mar 01:30</text>
<rect x="1260" y="731" width="1" height="3" fill="#000" shape-rendering="crispEdges"/>
<text x="1259.7" y="746" font-size="12.4" fill="#000" >15 Mar 01:30</text>
<g fill="#ff2010">
<text x="1228.2" y="321.4" font-size="53.2" font-family="Liberation Sans, Noto Sans CJK SC, sans-serif" textLength="251.5" lengthAdjust="spacingAndGlyphs">多空转折点</text>
<text x="1482.4" y="316.9" font-size="51.4" font-family="Liberation Sans, Noto Sans CJK SC, sans-serif" textLength="114.4" lengthAdjust="spacingAndGlyphs">3800</text>
</g>
</svg>
<svg width="520" height="33" viewBox="0 0 520 33" style="position:absolute;left:0;top:0" font-family="Liberation Sans, sans-serif">
<g stroke="#5a5a5a" stroke-width="1.5" fill="none" stroke-linecap="butt">
<path d="M9.8 19.3 L20.2 9.5"/><path d="M16.7 25.7 L28.3 15.6"/>
<path d="M11.6 24 L13.1 25.4 L14 16.6 L17 21.6 L17.8 14.9 L21.3 20.3 L22 12.5 L26.1 16.2 L25 7.5" stroke-width="1.5" stroke="#484848" stroke-linejoin="miter"/>
</g>
<path d="M23.9 22.2 H29 V23.6 H25.7 V24.7 H28.7 V26 H25.7 V27.2 H29.1 V28.6 H23.9 Z" fill="#4a4a4a"/>
<line x1="45.3" y1="9.1" x2="62.2" y2="9.1" stroke="#666" stroke-width="1.6" stroke-dasharray="1.45 1.1"/>
<line x1="45.3" y1="12.9" x2="62.2" y2="12.9" stroke="#666" stroke-width="1.6" stroke-dasharray="1.45 1.1"/>
<line x1="45.3" y1="17.9" x2="62.2" y2="17.9" stroke="#666" stroke-width="1.6" stroke-dasharray="1.45 1.1"/>
<line x1="45.3" y1="23.1" x2="57.4" y2="23.1" stroke="#666" stroke-width="1.6" stroke-dasharray="1.45 1.1"/>
<path d="M58 22.2 H62.9 V23.6 H59.8 V24.9 H62.5 V26.3 H59.8 V28.6 H58 Z" fill="#4a4a4a"/>
<path fill-rule="evenodd" d="M83.1 23.7 L87 12.4 L89.5 12.4 L93.4 23.7 L91.1 23.7 L90.2 21 L86.3 21 L85.4 23.7 Z M86.9 19.2 L89.6 19.2 L88.25 14.9 Z" fill="#585858"/>
<rect x="115.5" y="10.6" width="14" height="15" fill="none" stroke="#444" stroke-width="1.1" stroke-dasharray="1.1 1.45"/>
<rect x="113.6" y="8.2" width="3" height="2.4" fill="#666"/>
<path d="M117.6 13.3 H127.4 V15.1 H123.9 V23.7 H121.3 V15.1 H117.6 Z" fill="#757575"/>
<path d="M152 9.5 L156.4 14.1 H154.4 V15.7 H149.6 V14.1 H147.6 Z" fill="#666"/>
<path d="M160.7 26 L156.3 21.4 H158.3 V19.9 H163.2 V21.4 H165.2 Z" fill="#666"/>
<path d="M150.3 18.9 L153.1 21.5 L158.8 15" fill="none" stroke="#555" stroke-width="1.5"/>
<path d="M170.7 15.9 H178.3 L174.5 20.3 Z" fill="#000"/>
<rect x="186" y="1" width="1" height="32" fill="#9a9a9a"/>
<rect x="190" y="4" width="3" height="1" fill="#a4a4a4"/>
<rect x="190" y="6" width="3" height="1" fill="#a4a4a4"/>
<rect x="190" y="8" width="3" height="1" fill="#a4a4a4"/>
<rect x="190" y="10" width="3" height="1" fill="#a4a4a4"/>
<rect x="190" y="12" width="3" height="1" fill="#a4a4a4"/>
<rect x="190" y="14" width="3" height="1" fill="#a4a4a4"/>
<rect x="190" y="16" width="3" height="1" fill="#a4a4a4"/>
<rect x="190" y="18" width="3" height="1" fill="#a4a4a4"/>
<rect x="190" y="20" width="3" height="1" fill="#a4a4a4"/>
<rect x="190" y="22" width="3" height="1" fill="#a4a4a4"/>
<rect x="190" y="24" width="3" height="1" fill="#a4a4a4"/>
<rect x="190" y="26" width="3" height="1" fill="#a4a4a4"/>
<rect x="190" y="28" width="3" height="1" fill="#a4a4a4"/>
<rect x="190" y="30" width="3" height="1" fill="#a4a4a4"/>
<rect x="501" y="1" width="1" height="32" fill="#9a9a9a"/>
<rect x="366" y="2" width="31" height="29" fill="#f7f7f7"/>
<rect x="366" y="2" width="31" height="1" fill="#a0a0a0"/><rect x="366" y="2" width="1" height="29" fill="#a0a0a0"/>
<rect x="367" y="30" width="30" height="1" fill="#ffffff"/><rect x="396" y="3" width="1" height="28" fill="#ffffff"/>
<text x="203.2" y="22.2" font-size="11.6" fill="#404040" textLength="16.1" lengthAdjust="spacingAndGlyphs">M1</text>
<text x="237" y="22.2" font-size="11.6" fill="#404040" textLength="16.0" lengthAdjust="spacingAndGlyphs">M5</text>
<text x="268.4" y="22.2" font-size="11.6" fill="#404040" textLength="22.6" lengthAdjust="spacingAndGlyphs">M15</text>
<text x="302.8" y="22.2" font-size="11.6" fill="#404040" textLength="22.6" lengthAdjust="spacingAndGlyphs">M30</text>
<text x="340.7" y="22.2" font-size="11.6" fill="#404040" textLength="14.2" lengthAdjust="spacingAndGlyphs">H1</text>
<text x="373.3" y="22.2" font-size="11.6" fill="#404040" textLength="15.3" lengthAdjust="spacingAndGlyphs">H4</text>
<text x="408.8" y="22.2" font-size="11.6" fill="#404040" textLength="14.3" lengthAdjust="spacingAndGlyphs">D1</text>
<text x="441.8" y="22.2" font-size="11.6" fill="#404040" textLength="17.6" lengthAdjust="spacingAndGlyphs">W1</text>
<text x="474" y="22.2" font-size="11.6" fill="#404040" textLength="18.3" lengthAdjust="spacingAndGlyphs">MN</text>
</svg>

<div class="abs" style="left:13px;top:57px;width:287px;height:81px;background:#fff"></div>
<div class="abs" style="left:15px;top:60px;width:283px;height:76px;background:linear-gradient(#fa5252 0%,#ee4444 22%,#e03434 36%,#d02222 60%,#b80a0a 85%,#a80000 100%);"></div>
<div class="abs" style="left:15px;top:60px;width:283px;height:1px;background:#c81818"></div>
<div class="abs" style="left:15px;top:60px;width:1px;height:76px;background:#c41414"></div>
<div class="abs" style="left:297px;top:60px;width:1px;height:76px;background:#b00c0c"></div>
<div class="abs" style="left:15px;top:135px;width:283px;height:1px;background:#9c0000"></div>
<div class="abs" style="left:83px;top:60px;width:147px;height:27px;background:#fff"></div>
<div class="abs" style="left:82px;top:60px;width:1px;height:27px;background:#c01818"></div>
<div class="abs" style="left:230px;top:60px;width:1px;height:27px;background:#c01818"></div>
<div class="abs" style="left:83px;top:87px;width:147px;height:1px;background:#c42020"></div>
<div class="abs" style="left:156px;top:87px;width:2px;height:50px;background:#fff"></div>
<div class="abs" style="left:19px;top:86px;width:60px;height:1px;background:#a81010"></div>
<div class="abs" style="left:19px;top:87px;width:60px;height:1px;background:#f06060"></div>
<div class="abs" style="left:234px;top:86px;width:60px;height:1px;background:#a81010"></div>
<div class="abs" style="left:234px;top:87px;width:60px;height:1px;background:#f06060"></div>
<div class="abs" style="left:85px;top:60px;width:141px;height:23px;border:1px solid #a9aeb8;background:#fff"></div>
<div class="abs" style="left:86px;top:61px;width:22px;height:23px;background:linear-gradient(#f4f4f4 0%,#ebebeb 45%,#dcdcdc 50%,#cfcfcf 100%);border-right:1px solid #b4b8c0"></div>
<div class="abs" style="left:204px;top:61px;width:22px;height:23px;background:linear-gradient(#f4f4f4 0%,#ebebeb 45%,#dcdcdc 50%,#cfcfcf 100%);border-left:1px solid #b4b8c0"></div>
<svg class="abs" style="left:0;top:0" width="320" height="140" viewBox="0 0 320 140" font-family="Liberation Sans, sans-serif">
<path d="M93.6 71 H101 L97.3 75.3 Z" fill="#4763b8"/>
<path d="M211.4 75.3 H218.8 L215.1 71 Z" fill="#4763b8"/>
<text x="32.6" y="78.8" font-size="14.9" fill="#fff" textLength="32.2" lengthAdjust="spacingAndGlyphs">SELL</text>
<text x="249.6" y="78.7" font-size="14.9" fill="#fff" textLength="28" lengthAdjust="spacingAndGlyphs">BUY</text>
<text x="169.5" y="78" font-size="15.7" fill="#101010" textLength="29.6" lengthAdjust="spacingAndGlyphs">1.00</text>
<text x="45.6" y="124.8" font-size="14.8" font-weight="bold" fill="#fff" textLength="34" lengthAdjust="spacingAndGlyphs">3827</text>
<text x="187.6" y="124.8" font-size="14.8" font-weight="bold" fill="#fff" textLength="34.3" lengthAdjust="spacingAndGlyphs">3833</text>
<rect x="86.8" y="119.8" width="5.3" height="5.2" rx="2.5" fill="#fff"/>
<rect x="229.4" y="119.8" width="5.3" height="5.2" rx="2.5" fill="#fff"/>
<text x="93.6" y="124.8" font-size="40.6" fill="#fff" textLength="22.6" lengthAdjust="spacingAndGlyphs">6</text>
<text x="237.2" y="124.8" font-size="40.6" fill="#fff" textLength="21.4" lengthAdjust="spacingAndGlyphs">2</text>
</svg>

</body></html>
